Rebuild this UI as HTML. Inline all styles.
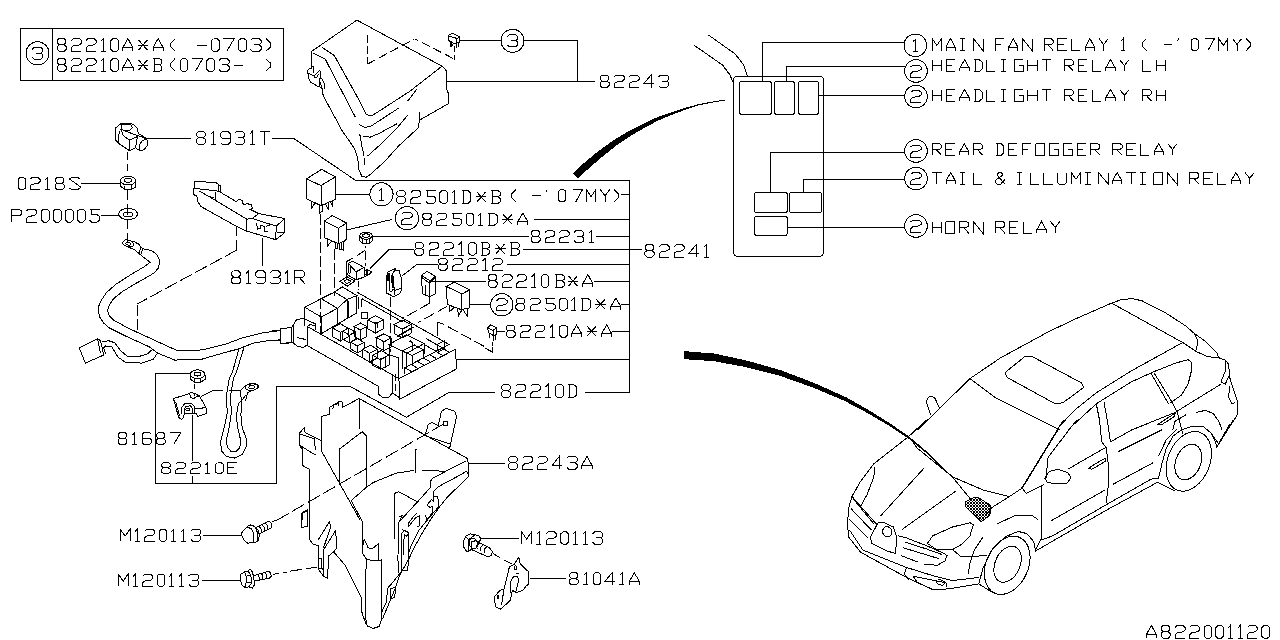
<!DOCTYPE html>
<html><head><meta charset="utf-8"><title>A822001120</title>
<style>
html,body{margin:0;padding:0;background:#fff;font-family:"Liberation Sans",sans-serif;}
svg{display:block}
svg path,svg circle,svg ellipse,svg rect,svg polyline{fill:none;stroke:#000;stroke-linecap:butt;stroke-linejoin:miter}
svg .f{fill:#000;stroke:none}
svg .w{fill:#fff}
svg .t text{font-family:"Liberation Mono",monospace;font-size:19px;fill:#000;fill-opacity:0;stroke:none}
</style></head><body>
<svg shape-rendering="crispEdges" width="1280" height="640" viewBox="0 0 1280 640">
<rect class="w" x="0" y="0" width="1280" height="640" style="stroke:none;fill:#fff"/>
<rect x="20.5" y="28.5" width="263.2" height="51.9" rx="0.0" stroke-width="1.0"/>
<path d="M52.5 28.5 L52.5 80.4" stroke-width="1.0" />
<circle cx="37.5" cy="53.3" r="11.5" stroke-width="1.0"/>
<path d="M32.2 49.2 L34.3 47.3 L40.7 47.3 L42.8 49.2 L42.8 51.6 L40.7 53.1 L42.8 54.7 L42.8 57.5 L40.7 59.3 L34.3 59.3 L32.2 57.5M35.7 53.1 L40.7 53.1" stroke-width="1.0" />
<path d="M59.1 38.6 L64.2 38.6 L65.7 40.2 L65.7 43.1 L63.9 44.7 L66.1 46.5 L66.1 49.4 L64.2 51.4 L59.1 51.4 L57.1 49.4 L57.1 46.5 L59.3 44.7 L57.5 43.1 L57.5 40.2 L59.1 38.6M59.3 44.7 L63.9 44.7M71.4 40.6 L73.4 38.6 L79.4 38.6 L81.4 40.6 L81.4 43.1 L79.4 44.9 L73.4 45.9 L71.4 47.7 L71.4 51.4 L81.4 51.4M86.1 40.6 L88.1 38.6 L94.0 38.6 L96.0 40.6 L96.0 43.1 L94.0 44.9 L88.1 45.9 L86.1 47.7 L86.1 51.4 L96.0 51.4M101.1 41.2 L103.5 38.6 L103.5 51.4M100.8 51.4 L105.8 51.4M113.1 38.6 L116.4 38.6 L118.6 40.6 L118.6 49.4 L116.4 51.4 L113.1 51.4 L110.9 49.4 L110.9 40.6 L113.1 38.6M122.8 51.4 L122.8 47.6 L127.9 38.6 L132.9 47.6 L132.9 51.4M122.8 47.6 L132.9 47.6M137.8 45.0 L148.2 45.0M138.6 39.9 L147.4 50.1M147.4 39.9 L138.6 50.1M153.0 51.4 L153.0 47.6 L158.1 38.6 L163.2 47.6 L163.2 51.4M153.0 47.6 L163.2 47.6M175.5 38.6 L170.6 43.5 L170.6 46.5 L175.5 51.4" stroke-width="1.0" />
<path d="M197.1 45.0 L206.8 45.0M213.5 38.6 L216.9 38.6 L219.1 40.6 L219.1 49.4 L216.9 51.4 L213.5 51.4 L211.3 49.4 L211.3 40.6 L213.5 38.6M223.4 38.6 L234.2 38.6 L226.8 51.4M240.8 38.6 L244.1 38.6 L246.4 40.6 L246.4 49.4 L244.1 51.4 L240.8 51.4 L238.5 49.4 L238.5 40.6 L240.8 38.6M250.6 40.6 L252.7 38.6 L259.0 38.6 L261.0 40.6 L261.0 43.1 L259.0 44.8 L261.0 46.5 L261.0 49.4 L259.0 51.4 L252.7 51.4 L250.6 49.4M254.0 44.8 L259.0 44.8M265.9 38.6 L270.9 43.5 L270.9 46.5 L265.9 51.4" stroke-width="1.0" />
<path d="M59.1 58.6 L64.2 58.6 L65.7 60.2 L65.7 63.1 L63.9 64.7 L66.1 66.5 L66.1 69.4 L64.2 71.4 L59.1 71.4 L57.1 69.4 L57.1 66.5 L59.3 64.7 L57.5 63.1 L57.5 60.2 L59.1 58.6M59.3 64.7 L63.9 64.7M71.4 60.6 L73.4 58.6 L79.4 58.6 L81.4 60.6 L81.4 63.1 L79.4 64.9 L73.4 65.9 L71.4 67.7 L71.4 71.4 L81.4 71.4M86.1 60.6 L88.1 58.6 L94.1 58.6 L96.0 60.6 L96.0 63.1 L94.1 64.9 L88.1 65.9 L86.1 67.7 L86.1 71.4 L96.0 71.4M101.1 61.2 L103.5 58.6 L103.5 71.4M100.8 71.4 L105.9 71.4M113.1 58.6 L116.4 58.6 L118.7 60.6 L118.7 69.4 L116.4 71.4 L113.1 71.4 L110.9 69.4 L110.9 60.6 L113.1 58.6M122.8 71.4 L122.8 67.6 L127.9 58.6 L133.0 67.6 L133.0 71.4M122.8 67.6 L133.0 67.6M137.8 65.0 L148.2 65.0M138.6 59.9 L147.4 70.1M147.4 59.9 L138.6 70.1M153.1 58.6 L159.7 58.6 L161.9 60.2 L161.9 63.3 L159.7 64.9 L161.9 66.5 L161.9 69.8 L159.7 71.4 L153.1 71.4M154.6 58.6 L154.6 71.4M154.6 64.9 L159.7 64.9M175.1 58.6 L170.3 63.5 L170.3 66.5 L175.1 71.4M182.4 58.6 L185.7 58.6 L187.9 60.6 L187.9 69.4 L185.7 71.4 L182.4 71.4 L180.2 69.4 L180.2 60.6 L182.4 58.6M192.1 58.6 L202.7 58.6 L195.4 71.4M209.1 58.6 L212.4 58.6 L214.6 60.6 L214.6 69.4 L212.4 71.4 L209.1 71.4 L206.9 69.4 L206.9 60.6 L209.1 58.6M218.8 60.6 L220.8 58.6 L227.0 58.6 L229.0 60.6 L229.0 63.1 L227.0 64.8 L229.0 66.5 L229.0 69.4 L227.0 71.4 L220.8 71.4 L218.8 69.4M222.1 64.8 L227.0 64.8M233.8 65.0 L243.3 65.0" stroke-width="1.0" />
<path d="M265.6 58.6 L270.9 63.5 L270.9 66.5 L265.6 71.4" stroke-width="1.0" />
<rect x="733.4" y="76.3" width="90.0" height="180.0" rx="4.0" stroke-width="1.0"/>
<rect x="739.4" y="81.5" width="31.9" height="32.8" rx="2.0" stroke-width="1.0"/>
<rect x="774.6" y="81.5" width="19.7" height="32.8" rx="2.0" stroke-width="1.0"/>
<rect x="798.4" y="81.5" width="20.1" height="32.8" rx="2.0" stroke-width="1.0"/>
<rect x="754.4" y="192.5" width="32.8" height="19.9" rx="2.0" stroke-width="1.0"/>
<rect x="789.4" y="192.5" width="32.1" height="19.9" rx="2.0" stroke-width="1.0"/>
<rect x="754.4" y="216.5" width="32.8" height="18.8" rx="2.0" stroke-width="1.0"/>
<path d="M762.3 81.5 L762.3 42.5 L904.0 42.5" stroke-width="1.0" />
<path d="M786.3 81.5 L786.3 66.1 L904.5 66.1" stroke-width="1.0" />
<path d="M818.5 95.6 L904.5 95.6" stroke-width="1.0" />
<path d="M770.3 192.5 L770.3 152.4 L904.5 152.4" stroke-width="1.0" />
<path d="M803.5 192.5 L803.5 179.6 L904.5 179.6" stroke-width="1.0" />
<path d="M787.2 227.3 L904.5 227.3" stroke-width="1.0" />
<circle cx="915.3" cy="45.3" r="11.3" stroke-width="1.0"/>
<path d="M913.0 41.7 L915.5 39.3 L915.5 51.3M912.7 51.3 L917.9 51.3" stroke-width="1.0" />
<circle cx="916.0" cy="71.0" r="11.3" stroke-width="1.0"/>
<path d="M910.8 66.9 L912.9 65.0 L919.1 65.0 L921.2 66.9 L921.2 69.3 L919.1 70.9 L912.9 71.8 L910.8 73.5 L910.8 77.0 L921.2 77.0" stroke-width="1.0" />
<circle cx="916.0" cy="96.5" r="11.3" stroke-width="1.0"/>
<path d="M910.8 92.4 L912.9 90.5 L919.1 90.5 L921.2 92.4 L921.2 94.8 L919.1 96.4 L912.9 97.3 L910.8 99.0 L910.8 102.5 L921.2 102.5" stroke-width="1.0" />
<circle cx="916.0" cy="151.0" r="11.3" stroke-width="1.0"/>
<path d="M910.8 146.9 L912.9 145.0 L919.1 145.0 L921.2 146.9 L921.2 149.3 L919.1 150.9 L912.9 151.8 L910.8 153.5 L910.8 157.0 L921.2 157.0" stroke-width="1.0" />
<circle cx="916.0" cy="178.5" r="11.3" stroke-width="1.0"/>
<path d="M910.8 174.4 L912.9 172.5 L919.1 172.5 L921.2 174.4 L921.2 176.8 L919.1 178.4 L912.9 179.3 L910.8 181.0 L910.8 184.5 L921.2 184.5" stroke-width="1.0" />
<circle cx="916.0" cy="226.0" r="11.3" stroke-width="1.0"/>
<path d="M910.8 221.9 L912.9 220.0 L919.1 220.0 L921.2 221.9 L921.2 224.3 L919.1 225.9 L912.9 226.8 L910.8 228.5 L910.8 232.0 L921.2 232.0" stroke-width="1.0" />
<path d="M932.2 50.6 L932.2 38.6 L936.8 45.5 L941.4 38.6 L941.4 50.6M946.0 50.6 L946.0 47.0 L950.5 38.6 L955.1 47.0 L955.1 50.6M946.0 47.0 L955.1 47.0M962.4 38.6 L962.4 50.6M959.7 38.6 L965.1 38.6M959.7 50.6 L965.1 50.6M973.5 50.6 L973.5 38.6 L983.0 50.6 L983.0 38.6M1003.8 38.6 L995.0 38.6 L995.0 50.6M995.0 44.4 L1001.0 44.4M1008.8 50.6 L1008.8 47.0 L1013.3 38.6 L1017.9 47.0 L1017.9 50.6M1008.8 47.0 L1017.9 47.0M1022.5 50.6 L1022.5 38.6 L1032.1 50.6 L1032.1 38.6M1044.0 50.6 L1044.0 38.6 L1051.0 38.6 L1053.0 40.3 L1053.0 43.0 L1051.0 44.7 L1044.0 44.7M1048.0 44.7 L1053.2 50.6M1066.6 38.6 L1057.8 38.6 L1057.8 50.6 L1066.6 50.6M1057.8 44.4 L1063.8 44.4M1071.6 38.6 L1071.6 50.6 L1080.1 50.6M1085.3 50.6 L1085.3 47.0 L1089.9 38.6 L1094.5 47.0 L1094.5 50.6M1085.3 47.0 L1094.5 47.0M1099.1 38.6 L1103.7 44.6 L1108.2 38.6M1103.7 44.6 L1103.7 50.6M1120.9 41.0 L1123.1 38.6 L1123.1 50.6M1120.6 50.6 L1125.2 50.6M1146.5 38.6 L1142.1 43.2 L1142.1 46.0 L1146.5 50.6M1163.7 44.6 L1172.2 44.6M1178.8 38.6 L1177.4 41.4M1193.2 38.6 L1196.2 38.6 L1198.2 40.4 L1198.2 48.8 L1196.2 50.6 L1193.2 50.6 L1191.2 48.8 L1191.2 40.4 L1193.2 38.6M1204.9 38.6 L1214.5 38.6 L1207.9 50.6M1218.7 50.6 L1218.7 38.6 L1223.3 45.5 L1227.9 38.6 L1227.9 50.6M1232.5 38.6 L1237.0 44.6 L1241.6 38.6M1237.0 44.6 L1237.0 50.6M1246.2 38.6 L1250.6 43.2 L1250.6 46.0 L1246.2 50.6" stroke-width="1.0" />
<path d="M932.2 59.7 L932.2 71.4M941.4 59.7 L941.4 71.4M932.2 65.4 L941.4 65.4M955.1 59.7 L946.1 59.7 L946.1 71.4 L955.1 71.4M946.1 65.4 L952.2 65.4M959.9 71.4 L959.9 67.9 L964.6 59.7 L969.3 67.9 L969.3 71.4M959.9 67.9 L969.3 67.9M973.8 59.7 L979.3 59.7 L982.0 62.0 L982.0 69.1 L979.3 71.4 L973.8 71.4M975.2 59.7 L975.2 71.4M986.7 59.7 L986.7 71.4 L995.4 71.4M1003.3 59.7 L1003.3 71.4M1000.5 59.7 L1006.1 59.7M1000.5 71.4 L1006.1 71.4M1023.2 59.7 L1014.0 59.7 L1014.0 71.4 L1023.2 71.4 L1023.2 65.6 L1018.6 65.6M1027.9 59.7 L1027.9 71.4M1037.1 59.7 L1037.1 71.4M1027.9 65.4 L1037.1 65.4M1041.8 59.7 L1051.1 59.7M1046.5 59.7 L1046.5 71.4M1064.2 71.4 L1064.2 59.7 L1071.3 59.7 L1073.4 61.3 L1073.4 64.0 L1071.3 65.6 L1064.2 65.6M1068.3 65.6 L1073.6 71.4M1087.1 59.7 L1078.1 59.7 L1078.1 71.4 L1087.1 71.4M1078.1 65.4 L1084.2 65.4M1092.0 59.7 L1092.0 71.4 L1100.7 71.4M1105.8 71.4 L1105.8 67.9 L1110.5 59.7 L1115.2 67.9 L1115.2 71.4M1105.8 67.9 L1115.2 67.9M1119.7 59.7 L1124.4 65.6 L1129.1 59.7M1124.4 65.6 L1124.4 71.4M1142.1 59.7 L1142.1 71.4 L1150.9 71.4M1156.0 59.7 L1156.0 71.4M1165.2 59.7 L1165.2 71.4M1156.0 65.4 L1165.2 65.4" stroke-width="1.0" />
<path d="M932.2 89.6 L932.2 101.1M941.4 89.6 L941.4 101.1M932.2 95.2 L941.4 95.2M955.1 89.6 L946.1 89.6 L946.1 101.1 L955.1 101.1M946.1 95.2 L952.2 95.2M959.9 101.1 L959.9 97.6 L964.6 89.6 L969.3 97.6 L969.3 101.1M959.9 97.6 L969.3 97.6M973.8 89.6 L979.3 89.6 L982.0 91.9 L982.0 98.8 L979.3 101.1 L973.8 101.1M975.2 89.6 L975.2 101.1M986.7 89.6 L986.7 101.1 L995.4 101.1M1003.3 89.6 L1003.3 101.1M1000.5 89.6 L1006.1 89.6M1000.5 101.1 L1006.1 101.1M1023.2 89.6 L1014.0 89.6 L1014.0 101.1 L1023.2 101.1 L1023.2 95.4 L1018.6 95.4M1027.9 89.6 L1027.9 101.1M1037.1 89.6 L1037.1 101.1M1027.9 95.2 L1037.1 95.2M1041.8 89.6 L1051.1 89.6M1046.5 89.6 L1046.5 101.1M1064.2 101.1 L1064.2 89.6 L1071.3 89.6 L1073.4 91.2 L1073.4 93.8 L1071.3 95.4 L1064.2 95.4M1068.3 95.4 L1073.6 101.1M1087.1 89.6 L1078.1 89.6 L1078.1 101.1 L1087.1 101.1M1078.1 95.2 L1084.2 95.2M1092.0 89.6 L1092.0 101.1 L1100.7 101.1M1105.8 101.1 L1105.8 97.6 L1110.5 89.6 L1115.2 97.6 L1115.2 101.1M1105.8 97.6 L1115.2 97.6M1119.7 89.6 L1124.4 95.3 L1129.1 89.6M1124.4 95.3 L1124.4 101.1M1142.1 101.1 L1142.1 89.6 L1149.3 89.6 L1151.3 91.2 L1151.3 93.8 L1149.3 95.4 L1142.1 95.4M1146.2 95.4 L1151.5 101.1M1156.0 89.6 L1156.0 101.1M1165.2 89.6 L1165.2 101.1M1156.0 95.2 L1165.2 95.2" stroke-width="1.0" />
<path d="M932.2 155.3 L932.2 143.6 L939.3 143.6 L941.3 145.2 L941.3 147.9 L939.3 149.5 L932.2 149.5M936.2 149.5 L941.5 155.3M954.8 143.6 L945.9 143.6 L945.9 155.3 L954.8 155.3M945.9 149.3 L952.0 149.3M959.7 155.3 L959.7 151.8 L964.3 143.6 L968.9 151.8 L968.9 155.3M959.7 151.8 L968.9 151.8M973.4 155.3 L973.4 143.6 L980.5 143.6 L982.5 145.2 L982.5 147.9 L980.5 149.5 L973.4 149.5M977.4 149.5 L982.7 155.3M995.6 143.6 L1001.0 143.6 L1003.7 145.9 L1003.7 153.0 L1001.0 155.3 L995.6 155.3M997.0 143.6 L997.0 155.3M1017.2 143.6 L1008.3 143.6 L1008.3 155.3 L1017.2 155.3M1008.3 149.3 L1014.4 149.3M1030.9 143.6 L1022.0 143.6 L1022.0 155.3M1022.0 149.3 L1028.1 149.3M1035.8 143.6 L1044.7 143.6 L1044.7 155.3 L1035.8 155.3 L1035.8 143.6M1058.6 143.6 L1049.5 143.6 L1049.5 155.3 L1058.6 155.3 L1058.6 149.5 L1054.0 149.5M1072.3 143.6 L1063.2 143.6 L1063.2 155.3 L1072.3 155.3 L1072.3 149.5 L1067.8 149.5M1085.8 143.6 L1077.0 143.6 L1077.0 155.3 L1085.8 155.3M1077.0 149.3 L1083.0 149.3M1090.7 155.3 L1090.7 143.6 L1097.8 143.6 L1099.8 145.2 L1099.8 147.9 L1097.8 149.5 L1090.7 149.5M1094.7 149.5 L1100.0 155.3M1112.9 155.3 L1112.9 143.6 L1120.0 143.6 L1122.0 145.2 L1122.0 147.9 L1120.0 149.5 L1112.9 149.5M1116.9 149.5 L1122.2 155.3M1135.5 143.6 L1126.6 143.6 L1126.6 155.3 L1135.5 155.3M1126.6 149.3 L1132.7 149.3M1140.4 143.6 L1140.4 155.3 L1149.0 155.3M1154.1 155.3 L1154.1 151.8 L1158.7 143.6 L1163.4 151.8 L1163.4 155.3M1154.1 151.8 L1163.4 151.8M1167.8 143.6 L1172.5 149.4 L1177.1 143.6M1172.5 149.4 L1172.5 155.3" stroke-width="1.0" />
<path d="M932.2 172.5 L941.5 172.5M936.9 172.5 L936.9 184.2M946.0 184.2 L946.0 180.7 L950.7 172.5 L955.3 180.7 L955.3 184.2M946.0 180.7 L955.3 180.7M962.5 172.5 L962.5 184.2M959.8 172.5 L965.3 172.5M959.8 184.2 L965.3 184.2M973.2 172.5 L973.2 184.2 L981.9 184.2M1005.0 184.2 L997.5 175.6 L997.5 173.9 L999.1 172.5 L1001.0 172.5 L1002.4 173.9 L1002.4 175.4 L995.5 180.2 L995.5 182.4 L997.3 184.2 L1000.6 184.2 L1005.0 179.3M1019.3 172.5 L1019.3 184.2M1016.6 172.5 L1022.1 172.5M1016.6 184.2 L1022.1 184.2M1030.0 172.5 L1030.0 184.2 L1038.7 184.2M1043.8 172.5 L1043.8 184.2 L1052.5 184.2M1057.6 172.5 L1057.6 182.4 L1059.4 184.2 L1064.9 184.2 L1066.7 182.4 L1066.7 172.5M1071.3 184.2 L1071.3 172.5 L1076.0 179.2 L1080.7 172.5 L1080.7 184.2M1087.9 172.5 L1087.9 184.2M1085.1 172.5 L1090.6 172.5M1085.1 184.2 L1090.6 184.2M1098.5 184.2 L1098.5 172.5 L1108.3 184.2 L1108.3 172.5M1112.5 184.2 L1112.5 180.7 L1117.2 172.5 L1121.8 180.7 L1121.8 184.2M1112.5 180.7 L1121.8 180.7M1126.3 172.5 L1135.6 172.5M1131.0 172.5 L1131.0 184.2M1142.8 172.5 L1142.8 184.2M1140.1 172.5 L1145.6 172.5M1140.1 184.2 L1145.6 184.2M1153.5 172.5 L1162.4 172.5 L1162.4 184.2 L1153.5 184.2 L1153.5 172.5M1167.3 184.2 L1167.3 172.5 L1177.0 184.2 L1177.0 172.5M1189.8 184.2 L1189.8 172.5 L1196.9 172.5 L1198.9 174.1 L1198.9 176.8 L1196.9 178.4 L1189.8 178.4M1193.9 178.4 L1199.1 184.2M1212.5 172.5 L1203.6 172.5 L1203.6 184.2 L1212.5 184.2M1203.6 178.2 L1209.7 178.2M1217.4 172.5 L1217.4 184.2 L1226.1 184.2M1231.2 184.2 L1231.2 180.7 L1235.8 172.5 L1240.5 180.7 L1240.5 184.2M1231.2 180.7 L1240.5 180.7M1245.0 172.5 L1249.6 178.3 L1254.3 172.5M1249.6 178.3 L1249.6 184.2" stroke-width="1.0" />
<path d="M932.2 221.5 L932.2 233.4M941.3 221.5 L941.3 233.4M932.2 227.3 L941.3 227.3M945.9 221.5 L954.8 221.5 L954.8 233.4 L945.9 233.4 L945.9 221.5M959.6 233.4 L959.6 221.5 L966.7 221.5 L968.7 223.1 L968.7 225.9 L966.7 227.5 L959.6 227.5M963.6 227.5 L968.9 233.4M973.3 233.4 L973.3 221.5 L983.0 233.4 L983.0 221.5M995.7 233.4 L995.7 221.5 L1002.8 221.5 L1004.8 223.1 L1004.8 225.9 L1002.8 227.5 L995.7 227.5M999.7 227.5 L1005.0 233.4M1018.3 221.5 L1009.4 221.5 L1009.4 233.4 L1018.3 233.4M1009.4 227.3 L1015.5 227.3M1023.1 221.5 L1023.1 233.4 L1031.8 233.4M1036.8 233.4 L1036.8 229.8 L1041.5 221.5 L1046.1 229.8 L1046.1 233.4M1036.8 229.8 L1046.1 229.8M1050.5 221.5 L1055.2 227.4 L1059.8 221.5M1055.2 227.4 L1055.2 233.4" stroke-width="1.0" />
<path d="M311.5 69.0 L311.5 51.5 L356.9 20.1 L442.0 66.2 L446.2 70.5 L446.9 90.0 L448.8 94.2 L448.8 103.4 L419.5 120.2" stroke-width="1.0" />
<path d="M312.7 52.9 L325.3 59.2 L346.4 100.0 L355.5 117.4" stroke-width="1.0" />
<path d="M321.8 47.3 L334.4 55.7 L359.0 100.0 L366.1 113.9 L368.9 115.3 L373.1 115.0 L409.7 91.4 L442.0 66.2" stroke-width="1.0" />
<path d="M416.7 89.4 L407.6 101.2" stroke-width="1.0" />
<path d="M319.0 79.0 L322.5 90.0 L323.2 95.6 L342.2 130.8 L354.8 149.0 L357.6 157.5 L359.0 170.1 L361.9 176.5 L366.1 177.2 L370.3 174.4 L384.4 161.7 L398.4 146.2 L418.8 127.3 L419.5 112.5" stroke-width="1.0" />
<path d="M359.0 124.4 L364.7 127.3 L370.3 126.6 L398.4 108.3" stroke-width="1.0" />
<path d="M362.6 136.4 L370.3 137.1 L378.7 133.6 L397.0 123.7" stroke-width="1.0" />
<path d="M407.6 115.3 L397.0 128.0 L380.1 144.8 L367.5 156.1" stroke-width="1.0" />
<path d="M359.8 134.3 L361.9 146.2 L364.0 155.4" stroke-width="1.0" />
<path d="M364.4 158.2 L364.4 165.2" stroke-width="1.0" />
<path d="M367.5 35.3 L367.5 64.1" stroke-width="1.0" stroke-dasharray="8 3"/>
<path d="M367.5 64.1 L414.6 38.8" stroke-width="1.0" stroke-dasharray="9 4"/>
<path d="M414.6 38.8 L454.7 59.2" stroke-width="1.0" stroke-dasharray="9 4" stroke-dashoffset="5"/>
<path d="M454.5 46.3 L454.5 51.6" stroke-width="1.0" />
<path d="M454.7 55.3 L454.7 60.2" stroke-width="1.0" />
<path d="M446.9 81.6 L595.0 81.6" stroke-width="1.0" />
<path d="M459.7 40.3 L501.0 40.3" stroke-width="1.0" />
<path d="M524.0 40.3 L577.5 40.3 L577.5 81.6" stroke-width="1.0" />
<circle cx="512.5" cy="40.8" r="11.5" stroke-width="1.0"/>
<path d="M507.2 36.7 L509.3 34.8 L515.7 34.8 L517.8 36.7 L517.8 39.1 L515.7 40.6 L517.8 42.2 L517.8 45.0 L515.7 46.8 L509.3 46.8 L507.2 45.0M510.7 40.6 L515.7 40.6" stroke-width="1.0" />
<path d="M602.0 75.0 L607.1 75.0 L608.6 76.5 L608.6 79.4 L606.8 81.0 L609.1 82.7 L609.1 85.6 L607.1 87.5 L602.0 87.5 L600.0 85.6 L600.0 82.7 L602.2 81.0 L600.4 79.4 L600.4 76.5 L602.0 75.0M602.2 81.0 L606.8 81.0M614.4 76.9 L616.3 75.0 L622.3 75.0 L624.3 76.9 L624.3 79.4 L622.3 81.2 L616.3 82.1 L614.4 83.8 L614.4 87.5 L624.3 87.5M629.0 76.9 L631.0 75.0 L637.0 75.0 L639.0 76.9 L639.0 79.4 L637.0 81.2 L631.0 82.1 L629.0 83.8 L629.0 87.5 L639.0 87.5M651.0 87.5 L651.0 75.0 L643.7 83.9 L653.9 83.9M658.5 76.9 L660.5 75.0 L666.7 75.0 L668.7 76.9 L668.7 79.4 L666.7 81.1 L668.7 82.7 L668.7 85.6 L666.7 87.5 L660.5 87.5 L658.5 85.6M661.9 81.1 L666.7 81.1" stroke-width="1.0" />
<path d="M311.6 55.0 L311.6 66.9 L313.4 66.9 L313.4 72.5" stroke-width="1.0" />
<path d="M311.6 67.8 L309.4 68.4 L307.5 70.3 L307.5 73.1 L309.4 73.8 L312.5 75.3 L314.4 75.3 L320.0 70.3 L320.3 78.1" stroke-width="1.0" />
<path d="M314.4 75.3 L314.7 77.2 L316.9 77.2 L318.8 73.8" stroke-width="1.0" />
<path d="M308.4 73.8 L308.4 78.1 L310.3 81.9 L317.5 86.3 L319.4 86.3 L319.7 78.1 L321.6 78.4 L324.4 83.8 L324.4 88.8" stroke-width="1.0" />
<path d="M319.4 86.3 L322.5 88.8 L322.8 95.0" stroke-width="1.0" />
<path d="M448.1 35.3 L452.5 33.4 L459.7 36.9 L459.7 42.5 L456.9 43.1 L453.4 43.1 L448.1 40.3Z" stroke-width="1.0" />
<path d="M448.1 35.3 L450.3 36.6 L456.9 38.4 L459.7 37.5" stroke-width="1.0" />
<path d="M456.9 38.4 L456.9 48.4" stroke-width="1.0" />
<path d="M458.4 43.1 L458.4 46.9" stroke-width="1.0" />
<path d="M450.8 41.0 L450.8 46.5" stroke-width="2" />
<path d="M452.2 43.5 L452.2 45.5" stroke-width="1.5" />
<path d="M115.2 128.4 L121.1 123.4 L130.9 123.4 L133.6 124.5 L137.5 128.4 L138.3 133.4 L146.9 138.9 L147.7 145.2 L143.8 149.8 L139.8 150.6 L135.5 147.9 L129.3 150.6 L118.4 143.2 L115.2 139.7Z" stroke-width="1.0" />
<ellipse cx="126.6" cy="127.3" rx="5.5" ry="3.4" stroke-width="1.0"/>
<path d="M121.1 123.7 L130.9 123.7" stroke-width="1.6" />
<path d="M124.2 130.7 L146.9 138.9" stroke-width="1.0" />
<path d="M120.7 128.8 L123.4 135.8 L129.3 140.1 L129.3 150.6" stroke-width="1.0" />
<path d="M129.3 140.1 L137.5 136.6 L135.5 147.9" stroke-width="1.0" />
<path d="M146.9 138.9 L142.2 140.9 L139.5 144.4 L139.8 150.6" stroke-width="1.0" />
<path d="M119.5 130.7 L118.6 136.6 L118.4 143.2" stroke-width="1.0" />
<path d="M147.3 138.6 L191.0 138.6" stroke-width="1.0" />
<path d="M198.5 131.5 L203.5 131.5 L205.0 133.1 L205.0 136.1 L203.2 137.7 L205.4 139.5 L205.4 142.5 L203.5 144.5 L198.5 144.5 L196.5 142.5 L196.5 139.5 L198.7 137.7 L196.9 136.1 L196.9 133.1 L198.5 131.5M198.7 137.7 L203.2 137.7M210.9 134.1 L213.3 131.5 L213.3 144.5M210.6 144.5 L215.6 144.5M220.6 142.5 L222.6 144.5 L228.0 144.5 L230.0 142.5 L230.0 133.5 L228.0 131.5 L222.6 131.5 L220.6 133.5 L220.6 136.5 L222.6 138.3 L230.0 138.3M234.7 133.5 L236.7 131.5 L242.8 131.5 L244.7 133.5 L244.7 136.1 L242.8 137.8 L244.7 139.5 L244.7 142.5 L242.8 144.5 L236.7 144.5 L234.7 142.5M238.0 137.8 L242.8 137.8M249.8 134.1 L252.2 131.5 L252.2 144.5M249.5 144.5 L254.5 144.5M259.5 131.5 L269.5 131.5M264.5 131.5 L264.5 144.5" stroke-width="1.0" />
<path d="M271.5 138.6 L294.0 138.6 L355.5 180.3 L629.8 180.3 L629.8 392.4" stroke-width="1.0" />
<path d="M127.8 152.2 L127.8 160.0" stroke-width="1.0" />
<path d="M127.8 164.4 L127.8 170.6" stroke-width="1.0" />
<path d="M127.8 190.3 L127.8 199.8" stroke-width="1.0" />
<path d="M127.8 203.8 L127.8 215.0" stroke-width="1.0" />
<path d="M127.8 220.0 L127.8 229.4" stroke-width="1.0" />
<path d="M127.8 233.0 L127.8 242.0" stroke-width="1.0" />
<ellipse cx="128.1" cy="180.6" rx="7.5" ry="4.4" stroke-width="1.0"/>
<ellipse cx="128.1" cy="180.3" rx="3.6" ry="2.1" stroke-width="1.0"/>
<path d="M120.6 181.0 L120.6 186.3 L124.4 189.4 L131.3 189.4 L135.6 186.9 L135.6 181.0" stroke-width="1.0" />
<path d="M124.4 185.6 L124.4 189.4" stroke-width="1.0" />
<path d="M131.3 185.0 L131.3 189.4" stroke-width="1.0" />
<path d="M81.0 183.1 L120.6 183.1" stroke-width="1.0" />
<path d="M20.2 177.5 L23.6 177.5 L25.8 179.3 L25.8 187.7 L23.6 189.5 L20.2 189.5 L18.0 187.7 L18.0 179.3 L20.2 177.5M30.0 179.3 L32.0 177.5 L38.0 177.5 L40.0 179.3 L40.0 181.7 L38.0 183.4 L32.0 184.3 L30.0 186.0 L30.0 189.5 L40.0 189.5M45.2 179.9 L47.6 177.5 L47.6 189.5M44.8 189.5 L49.9 189.5M57.1 177.5 L62.2 177.5 L63.7 179.0 L63.7 181.7 L62.0 183.2 L64.2 184.9 L64.2 187.7 L62.2 189.5 L57.1 189.5 L55.1 187.7 L55.1 184.9 L57.3 183.2 L55.5 181.7 L55.5 179.0 L57.1 177.5M57.3 183.2 L62.0 183.2M80.0 179.0 L78.0 177.5 L71.5 177.5 L69.5 179.0 L80.0 186.5 L80.0 188.0 L78.0 189.5 L71.8 189.5 L69.5 188.0" stroke-width="1.0" />
<ellipse cx="128.1" cy="214.0" rx="9.4" ry="5.6" stroke-width="1.0"/>
<ellipse cx="128.1" cy="214.5" rx="4.7" ry="2.5" stroke-width="1.0"/>
<path d="M100.5 215.0 L118.8 215.0" stroke-width="1.0" />
<path d="M11.5 222.0 L11.5 209.2 L19.3 209.2 L21.5 211.0 L21.5 214.1 L19.3 215.9 L11.5 215.9M26.4 211.2 L28.5 209.2 L34.5 209.2 L36.5 211.2 L36.5 213.7 L34.5 215.5 L28.5 216.5 L26.4 218.3 L26.4 222.0 L36.5 222.0M43.5 209.2 L46.9 209.2 L49.1 211.2 L49.1 220.0 L46.9 222.0 L43.5 222.0 L41.3 220.0 L41.3 211.2 L43.5 209.2M55.6 209.2 L58.9 209.2 L61.1 211.2 L61.1 220.0 L58.9 222.0 L55.6 222.0 L53.3 220.0 L53.3 211.2 L55.6 209.2M67.6 209.2 L70.9 209.2 L73.2 211.2 L73.2 220.0 L70.9 222.0 L67.6 222.0 L65.4 220.0 L65.4 211.2 L67.6 209.2M79.6 209.2 L83.0 209.2 L85.2 211.2 L85.2 220.0 L83.0 222.0 L79.6 222.0 L77.4 220.0 L77.4 211.2 L79.6 209.2M99.5 209.2 L89.5 209.2M91.0 209.2 L91.0 214.7 L97.3 214.7 L99.5 216.7 L99.5 220.0 L97.3 222.0 L91.7 222.0 L89.5 220.0" stroke-width="1.0" />
<ellipse cx="128.2" cy="243.4" rx="5.6" ry="3.4" stroke-width="1.0" transform="rotate(15 128.2 243.4)"/>
<ellipse cx="128.2" cy="243.6" rx="2.6" ry="1.5" stroke-width="1.0" transform="rotate(15 128.2 243.6)"/>
<path d="M133.1 241.2 L138.7 244.1 L140.8 247.6 L144.4 249.0 L151.4 250.4 L157.0 254.6 L159.8 260.9 L158.4 268.0 L154.2 272.9 L147.2 277.1 L135.9 283.4 L121.9 291.9 L113.4 298.9" stroke-width="1.0" />
<path d="M126.1 246.2 L134.5 249.7 L139.4 253.9 L150.0 262.3 L144.4 266.6 L130.3 275.0 L116.2 284.1 L106.4 292.6 L100.8 301.0" stroke-width="1.0" />
<path d="M140.8 248.3 L138.7 253.2" stroke-width="1.0" />
<path d="M143.0 249.0 L140.8 254.2" stroke-width="1.0" />
<path d="M137.6 304.5 L137.6 330.0" stroke-width="1.0" stroke-dasharray="11 3"/>
<path d="M236.7 250.1 L137.6 303.8" stroke-width="1.0" stroke-dasharray="13 4"/>
<path d="M218.0 191.1 L194.1 188.3 L194.1 181.2 L215.9 182.7 L220.8 186.2 L220.8 192.5 L236.2 201.6 L238.3 199.5 L241.9 200.2 L243.3 204.4 L247.5 203.7 L251.7 205.1 L252.4 208.7 L250.3 209.4 L258.7 213.6 L284.7 218.5 L284.0 233.3 L275.6 239.6 L246.8 231.2 L236.2 226.2 L201.1 206.6 L197.6 201.6 L196.9 196.0 L193.4 194.6 L193.4 189.0 L194.1 188.3" stroke-width="1.0" />
<path d="M215.9 182.7 L218.0 184.1 L218.0 191.1 L220.8 192.5" stroke-width="1.0" />
<path d="M199.7 191.1 L215.1 200.2 L246.8 219.2 L252.4 218.5 L258.7 213.6" stroke-width="1.0" />
<path d="M215.1 191.8 L215.9 200.2" stroke-width="1.0" />
<path d="M208.1 196.7 L214.4 197.4" stroke-width="1.0" />
<path d="M246.8 219.2 L246.8 231.2" stroke-width="1.0" />
<path d="M252.4 218.5 L276.3 226.2 L284.7 218.5" stroke-width="1.0" />
<path d="M276.3 226.2 L275.6 239.6" stroke-width="1.0" />
<path d="M276.3 231.9 L284.0 232.8" stroke-width="1.0" />
<path d="M256.6 222.7 L257.3 229.1 L260.1 228.3 L260.8 225.5 L264.4 226.2 L264.4 231.9 L267.9 231.9" stroke-width="1.0" />
<path d="M265.8 226.2 L270.0 225.5" stroke-width="1.0" />
<path d="M236.7 226.9 L236.7 236.1" stroke-width="1.0" />
<path d="M236.7 239.6 L236.7 250.1" stroke-width="1.0" />
<path d="M262.5 237.5 L262.5 266.0" stroke-width="1.0" />
<path d="M306.6 178.8 L321.6 169.4 L335.4 176.9 L321.0 185.6Z" stroke-width="1.0" />
<path d="M306.6 178.8 L306.6 198.8 L321.0 205.6 L335.4 199.4 L335.4 176.9" stroke-width="1.0" />
<path d="M321.0 185.6 L321.0 205.6" stroke-width="1.0" />
<path d="M311.6 201.9 L311.6 208.1 L314.8 203.5" stroke-width="1.0" />
<path d="M319.1 205.0 L319.8 213.1 L322.9 210.6 L322.9 205.2" stroke-width="1.0" />
<path d="M325.4 204.0 L328.5 210.0 L328.5 202.8" stroke-width="1.0" />
<path d="M330.4 202.0 L332.9 206.9 L332.9 200.8" stroke-width="1.0" />
<path d="M335.4 194.0 L369.8 194.0" stroke-width="1.0" />
<circle cx="381.5" cy="194.4" r="11.6" stroke-width="1.0"/>
<path d="M379.2 190.8 L381.7 188.4 L381.7 200.4M378.9 200.4 L384.1 200.4" stroke-width="1.0" />
<path d="M324.1 221.2 L332.2 215.6 L346.6 223.1 L338.5 228.1Z" stroke-width="1.0" />
<path d="M324.1 221.2 L324.1 237.5 L338.5 243.8 L346.6 239.4 L346.6 223.1" stroke-width="1.0" />
<path d="M338.5 228.1 L338.5 243.8" stroke-width="1.0" />
<path d="M327.2 239.4 L327.9 245.6 L331.6 241.2" stroke-width="1.0" />
<path d="M335.4 242.8 L335.4 248.8 L337.2 248.8 L337.2 243.5" stroke-width="1.0" />
<path d="M339.1 243.8 L339.8 249.4 L343.5 250.0 L344.1 240.6" stroke-width="1.0" />
<path d="M341.6 242.5 L341.6 248.8" stroke-width="1.0" />
<path d="M346.6 230.0 L392.2 219.4" stroke-width="1.0" />
<circle cx="407.0" cy="218.2" r="11.6" stroke-width="1.0"/>
<path d="M401.8 214.1 L403.9 212.2 L410.1 212.2 L412.2 214.1 L412.2 216.5 L410.1 218.1 L403.9 219.0 L401.8 220.7 L401.8 224.2 L412.2 224.2" stroke-width="1.0" />
<path d="M320.4 213.8 L320.4 334.0" stroke-width="1.0" stroke-dasharray="11 3"/>
<path d="M334.5 249.4 L334.5 296.0" stroke-width="1.0" stroke-dasharray="11 3"/>
<ellipse cx="366.0" cy="235.6" rx="6.3" ry="3.6" stroke-width="1.0"/>
<ellipse cx="366.0" cy="235.6" rx="3.4" ry="1.8" stroke-width="1.0"/>
<path d="M359.8 235.6 L359.8 240.6 L362.9 243.8 L369.1 243.8 L372.2 240.6 L372.2 235.6" stroke-width="1.0" />
<path d="M362.9 239.4 L362.9 243.8" stroke-width="1.0" />
<path d="M369.1 239.4 L369.1 243.8" stroke-width="1.0" />
<path d="M366.0 239.8 L366.0 243.8" stroke-width="1.0" />
<path d="M365.4 245.6 L365.4 248.1" stroke-width="1.0" />
<path d="M365.4 250.6 L365.4 266.2" stroke-width="1.0" stroke-dasharray="9 3"/>
<path d="M364.8 250.6 L357.2 255.6" stroke-width="1.0" />
<path d="M352.9 258.1 L346.0 261.9 L346.0 275.0" stroke-width="1.0" />
<path d="M348.5 263.1 L352.9 261.2 L364.1 267.5 L364.1 276.9 L356.0 280.0 L347.9 275.0Z" stroke-width="1.0" />
<path d="M348.5 263.1 L351.0 266.2 L356.0 271.9 L364.1 267.5" stroke-width="1.0" />
<path d="M356.0 271.9 L356.0 280.0" stroke-width="1.0" />
<path d="M351.0 266.2 L349.8 274.4" stroke-width="1.0" />
<path d="M366.0 268.8 L371.6 271.9 L366.0 276.2Z" stroke-width="1.0" />
<path d="M364.1 270.0 L367.9 270.6 L367.9 274.4 L364.1 275.0" stroke-width="1.0" />
<path d="M339.8 281.2 L347.2 276.9 L354.8 281.2 L347.2 286.2Z" stroke-width="1.0" />
<path d="M344.1 281.2 L347.2 279.4 L351.0 281.2 L347.2 283.8Z" stroke-width="1.0" />
<path d="M346.0 275.0 L346.0 280.0" stroke-width="1.0" />
<path d="M356.0 280.0 L363.5 277.5 L371.0 273.1" stroke-width="1.0" />
<path d="M358.5 280.6 L358.5 290.0" stroke-width="1.0" stroke-dasharray="6 2"/>
<path d="M369.8 268.8 L389.1 249.4 L413.5 249.4" stroke-width="1.0" />
<path d="M308.1 326.9 L307.1 327.3 L307.1 345.4 L378.4 386.4 L378.4 394.3 L382.3 397.2 L389.1 397.2 L392.1 392.9 L392.1 375.7" stroke-width="1.0" />
<path d="M308.1 326.9 L398.9 378.6" stroke-width="1.0" />
<path d="M398.9 378.6 L455.5 349.3 L456.5 368.9 L399.9 399.1Z" stroke-width="1.0" />
<path d="M392.1 392.9 L399.9 397.8" stroke-width="1.0" />
<path d="M395.0 373.8 L395.0 392.3" stroke-width="1.0" stroke-dasharray="7 3"/>
<path d="M356.9 292.1 L449.7 344.8" stroke-width="1.0" />
<path d="M361.8 298.6 L402.8 322.0" stroke-width="1.0" />
<path d="M304.8 307.3 L321.2 298.6 L337.4 308.3 L321.2 317.1Z" stroke-width="1.0" />
<path d="M304.8 307.3 L304.8 325.9" stroke-width="1.0" />
<path d="M321.2 317.1 L321.2 333.7" stroke-width="1.0" />
<path d="M337.4 308.3 L337.4 323.9" stroke-width="1.0" />
<path d="M321.2 298.6 L334.5 292.1 L347.1 299.5 L337.4 308.3" stroke-width="1.0" />
<path d="M347.1 299.5 L347.1 318.1" stroke-width="1.0" />
<path d="M334.5 292.1 L342.3 286.8 L356.9 295.6 L347.1 299.5" stroke-width="1.0" />
<path d="M356.9 295.6 L356.9 312.8" stroke-width="1.0" />
<path d="M321.2 333.7 L356.9 312.8" stroke-width="1.0" />
<path d="M348.1 300.5 L348.1 317.1" stroke-width="1" />
<path d="M358.9 296.6 L358.9 309.3" stroke-width="1.0" />
<path d="M361.8 298.6 L361.8 307.3" stroke-width="1.0" />
<path d="M270.0 331.2 L280.7 330.4" stroke-width="1.0" />
<path d="M270.0 340.5 L280.7 340.9" stroke-width="1.0" />
<path d="M280.7 328.8 L291.1 327.5 L291.1 342.5 L280.7 343.5Z" stroke-width="1.0" />
<path d="M291.1 328.8 L293.4 324.9 L296.4 320.0 L303.2 318.1 L315.3 323.9 L315.3 330.4" stroke-width="1.0" />
<path d="M293.4 324.9 L293.0 342.5 L297.3 346.4 L303.2 347.4 L306.7 345.4" stroke-width="1.0" />
<path d="M297.3 337.6 L306.1 339.6" stroke-width="1.0" />
<path d="M306.7 327.3 L310.0 324.5 L315.3 325.9" stroke-width="1.0" />
<path d="M332.5 327.9 L340.3 323.8 L348.1 328.2 L340.3 332.3Z" stroke-width="1.0" />
<path d="M332.5 327.9 L332.5 336.6" stroke-width="1.0" />
<path d="M340.3 332.3 L340.3 341.1" stroke-width="1.0" />
<path d="M348.1 328.2 L348.1 337.0" stroke-width="1.0" />
<path d="M332.5 336.6 L340.3 341.1 L348.1 337.0" stroke-width="1.0" />
<path d="M342.7 331.2 L348.5 328.1 L355.4 332.0 L349.5 335.1Z" stroke-width="1.0" />
<path d="M342.7 331.2 L342.7 339.0" stroke-width="1.0" />
<path d="M349.5 335.1 L349.5 342.9" stroke-width="1.0" />
<path d="M355.4 332.0 L355.4 339.8" stroke-width="1.0" />
<path d="M342.7 339.0 L349.5 342.9 L355.4 339.8" stroke-width="1.0" />
<path d="M350.5 342.1 L357.3 338.6 L364.1 342.5 L357.3 346.0Z" stroke-width="1.0" />
<path d="M350.5 342.1 L350.5 348.9" stroke-width="1.0" />
<path d="M357.3 346.0 L357.3 352.8" stroke-width="1.0" />
<path d="M364.1 342.5 L364.1 349.3" stroke-width="1.0" />
<path d="M350.5 348.9 L357.3 352.8 L364.1 349.3" stroke-width="1.0" />
<path d="M354.0 326.5 L360.6 323.0 L366.9 326.6 L360.2 330.0Z" stroke-width="1.0" />
<path d="M354.0 326.5 L354.0 336.2" stroke-width="1.0" />
<path d="M360.2 330.0 L360.2 339.8" stroke-width="1.0" />
<path d="M366.9 326.6 L366.9 336.4" stroke-width="1.0" />
<path d="M354.0 336.2 L360.2 339.8 L366.9 336.4" stroke-width="1.0" />
<path d="M367.7 320.0 L375.5 315.7 L383.3 319.6 L383.3 328.8 L375.5 333.1 L367.7 328.8Z" stroke-width="1.0" />
<path d="M367.7 320.0 L375.5 323.9 L383.3 319.6" stroke-width="1.0" />
<path d="M375.5 323.9 L375.5 333.1" stroke-width="1.0" />
<path d="M371.6 322.0 L377.4 322.0 L377.4 327.9" stroke-width="1.0" />
<path d="M361.8 312.2 L367.7 312.2 L367.7 318.1 L361.8 318.1Z" stroke-width="1.0" />
<path d="M376.4 337.6 L383.9 333.8 L391.3 338.0 L383.9 341.8Z" stroke-width="1.0" />
<path d="M376.4 337.6 L376.4 346.4" stroke-width="1.0" />
<path d="M383.9 341.8 L383.9 350.6" stroke-width="1.0" />
<path d="M391.3 338.0 L391.3 346.8" stroke-width="1.0" />
<path d="M376.4 346.4 L383.9 350.6 L391.3 346.8" stroke-width="1.0" />
<path d="M362.8 349.3 L370.6 345.3 L377.4 349.2 L369.6 353.2Z" stroke-width="1.0" />
<path d="M362.8 349.3 L362.8 358.1" stroke-width="1.0" />
<path d="M369.6 353.2 L369.6 362.0" stroke-width="1.0" />
<path d="M377.4 349.2 L377.4 358.0" stroke-width="1.0" />
<path d="M362.8 358.1 L369.6 362.0 L377.4 358.0" stroke-width="1.0" />
<path d="M372.5 355.2 L381.3 350.6 L389.1 355.1 L380.4 359.6Z" stroke-width="1.0" />
<path d="M372.5 355.2 L372.5 365.0" stroke-width="1.0" />
<path d="M380.4 359.6 L380.4 369.4" stroke-width="1.0" />
<path d="M389.1 355.1 L389.1 364.8" stroke-width="1.0" />
<path d="M372.5 365.0 L380.4 369.4 L389.1 364.8" stroke-width="1.0" />
<path d="M394.0 324.5 L402.8 320.0 L411.0 324.6 L402.2 329.2Z" stroke-width="1.0" />
<path d="M394.0 324.5 L394.0 333.3" stroke-width="1.0" />
<path d="M402.2 329.2 L402.2 338.0" stroke-width="1.0" />
<path d="M411.0 324.6 L411.0 333.4" stroke-width="1.0" />
<path d="M394.0 333.3 L402.2 338.0 L411.0 333.4" stroke-width="1.0" />
<path d="M397.0 336.6 L413.6 326.9" stroke-width="1.6" />
<path d="M389.1 344.5 L406.7 334.7 L424.3 343.5 L406.7 353.2Z" stroke-width="1.0" />
<path d="M389.1 344.5 L389.1 358.1" stroke-width="1.0" />
<path d="M406.7 353.2 L406.7 367.9" stroke-width="1.0" />
<path d="M424.3 343.5 L424.3 354.2" stroke-width="1.0" />
<path d="M402.8 350.7 L414.1 344.8 L423.3 349.7 L412.0 355.6Z" stroke-width="1.0" />
<path d="M402.8 350.7 L402.8 368.9" stroke-width="1.0" />
<path d="M412.0 355.6 L412.0 365.9" stroke-width="1.0" />
<path d="M423.3 349.7 L423.3 358.1" stroke-width="1.0" />
<path d="M412.6 342.5 L412.6 350.3" stroke-width="1.0" />
<path d="M409.6 340.9 L412.6 342.5" stroke-width="1.6" />
<path d="M387.2 354.2 L398.9 358.1 L398.9 377.7" stroke-width="1.0" />
<path d="M385.2 356.2 L385.2 367.9" stroke-width="1.0" />
<path d="M380.4 358.1 L380.4 365.9" stroke-width="1.0" />
<path d="M404.0 368.1 L449.4 344.3" stroke-width="1.0" />
<path d="M404.7 367.7 L411.3 371.4" stroke-width="1.0" />
<path d="M410.9 364.4 L417.5 368.1" stroke-width="1.0" />
<path d="M417.1 361.2 L423.7 364.9" stroke-width="1.0" />
<path d="M423.3 357.9 L429.9 361.7" stroke-width="1.0" />
<path d="M429.5 354.7 L436.1 358.4" stroke-width="1.0" />
<path d="M435.7 351.4 L442.3 355.2" stroke-width="1.0" />
<path d="M441.8 348.2 L448.4 351.9" stroke-width="1.0" />
<path d="M404.0 368.1 L404.0 374.3" stroke-width="1.0" />
<path d="M437.0 344.5 L444.8 340.5 L444.8 348.4 L438.0 351.9" stroke-width="1.0" />
<path d="M437.0 344.5 L437.0 351.3" stroke-width="1.0" />
<path d="M424.3 344.5 L436.0 351.3" stroke-width="1.0" />
<path d="M426.2 338.6 L445.8 349.9" stroke-width="1.0" />
<path d="M387.3 272.5 L395.1 268.6 L395.5 270.6 L399.0 270.2 L399.4 272.9 L401.0 276.8 L401.4 283.1 L401.8 288.6 L401.0 291.3 L399.4 294.0 L393.6 296.8 L390.1 294.8 L386.9 293.2 L386.2 281.5Z" stroke-width="1.0" />
<path d="M387.7 272.9 L387.9 280.8" stroke-width="2" />
<path d="M392.0 274.5 L392.8 287.8" stroke-width="2" />
<path d="M389.3 273.3 L389.7 290.9 L391.6 291.7 L393.6 288.6" stroke-width="1.0" />
<path d="M395.1 269.4 L392.8 273.7 L394.4 290.9 L394.8 294.8" stroke-width="1.0" />
<path d="M394.4 290.9 L401.4 287.8" stroke-width="1.0" />
<path d="M390.6 296.7 L390.6 352.0" stroke-width="1.0" stroke-dasharray="10 3"/>
<path d="M437.9 264.9 L416.4 264.9 L401.8 276.1" stroke-width="1.0" />
<path d="M440.4 258.5 L445.5 258.5 L447.1 259.9 L447.1 262.6 L445.3 264.0 L447.5 265.6 L447.5 268.2 L445.5 270.0 L440.4 270.0 L438.4 268.2 L438.4 265.6 L440.6 264.0 L438.8 262.6 L438.8 259.9 L440.4 258.5M440.6 264.0 L445.3 264.0M452.8 260.3 L454.8 258.5 L460.8 258.5 L462.8 260.3 L462.8 262.6 L460.8 264.2 L454.8 265.0 L452.8 266.6 L452.8 270.0 L462.8 270.0M467.6 260.3 L469.6 258.5 L475.6 258.5 L477.6 260.3 L477.6 262.6 L475.6 264.2 L469.6 265.0 L467.6 266.6 L467.6 270.0 L477.6 270.0M482.7 260.8 L485.2 258.5 L485.2 270.0M482.4 270.0 L487.5 270.0M492.6 260.3 L494.6 258.5 L500.6 258.5 L502.6 260.3 L502.6 262.6 L500.6 264.2 L494.6 265.0 L492.6 266.6 L492.6 270.0 L502.6 270.0" stroke-width="1.0" />
<path d="M507.1 264.3 L629.8 264.3" stroke-width="1.0" />
<path d="M421.3 275.3 L427.2 271.4 L435.4 276.5 L429.9 280.8Z" stroke-width="1.0" />
<path d="M421.3 275.3 L422.5 293.6 L429.5 296.8 L435.8 293.6 L435.4 276.5" stroke-width="1.0" />
<path d="M429.9 280.8 L429.5 296.8" stroke-width="1.0" />
<path d="M422.1 277.6 L429.1 283.1 L435.0 278.0" stroke-width="1.0" />
<path d="M425.6 284.7 L426.0 294.8" stroke-width="1.0" />
<path d="M432.0 281.4 L486.0 281.4" stroke-width="1.0" />
<path d="M490.1 274.6 L495.1 274.6 L496.6 276.2 L496.6 279.1 L494.9 280.7 L497.0 282.4 L497.0 285.3 L495.1 287.3 L490.1 287.3 L488.1 285.3 L488.1 282.4 L490.3 280.7 L488.5 279.1 L488.5 276.2 L490.1 274.6M490.3 280.7 L494.9 280.7M502.3 276.6 L504.2 274.6 L510.1 274.6 L512.1 276.6 L512.1 279.1 L510.1 280.9 L504.2 281.8 L502.3 283.6 L502.3 287.3 L512.1 287.3M516.8 276.6 L518.7 274.6 L524.6 274.6 L526.6 276.6 L526.6 279.1 L524.6 280.9 L518.7 281.8 L516.8 283.6 L516.8 287.3 L526.6 287.3M531.6 277.1 L534.0 274.6 L534.0 287.3M531.2 287.3 L536.3 287.3M543.4 274.6 L546.7 274.6 L548.9 276.6 L548.9 285.3 L546.7 287.3 L543.4 287.3 L541.3 285.3 L541.3 276.6 L543.4 274.6M555.4 274.6 L562.0 274.6 L564.1 276.2 L564.1 279.3 L562.0 280.9 L564.1 282.4 L564.1 285.7 L562.0 287.3 L555.4 287.3M556.9 274.6 L556.9 287.3M556.9 280.9 L562.0 280.9M567.8 281.0 L578.1 281.0M568.6 275.9 L577.3 286.0M577.3 275.9 L568.6 286.0M582.9 287.3 L582.9 283.5 L587.9 274.6 L592.9 283.5 L592.9 287.3M582.9 283.5 L592.9 283.5" stroke-width="1.0" />
<path d="M593.9 281.3 L629.8 281.3" stroke-width="1.0" />
<path d="M429.5 296.8 L429.5 303.4 L422.9 306.9" stroke-width="1.0" />
<path d="M422.9 306.9 L401.8 319.0" stroke-width="1.0" stroke-dasharray="11 4" stroke-dashoffset="8"/>
<path d="M446.4 286.4 L454.2 282.1 L469.6 289.8 L461.9 294.1Z" stroke-width="1.0" />
<path d="M446.4 286.4 L447.3 304.4 L461.1 309.6 L469.6 307.9 L469.6 289.8" stroke-width="1.0" />
<path d="M461.9 294.1 L461.1 309.6" stroke-width="1.0" />
<path d="M449.9 305.6 L449.9 311.3 L454.2 307.4" stroke-width="1.0" />
<path d="M457.6 308.7 L458.5 315.6 L461.9 310.1" stroke-width="1.0" />
<path d="M462.8 309.6 L467.1 315.6 L467.1 308.4" stroke-width="1.0" />
<path d="M469.6 304.4 L490.5 304.4" stroke-width="1.0" />
<circle cx="501.8" cy="304.8" r="11.2" stroke-width="1.0"/>
<path d="M496.6 300.7 L498.7 298.8 L504.9 298.8 L507.0 300.7 L507.0 303.1 L504.9 304.7 L498.7 305.6 L496.6 307.3 L496.6 310.8 L507.0 310.8" stroke-width="1.0" />
<path d="M517.8 298.1 L522.9 298.1 L524.5 299.6 L524.5 302.4 L522.7 303.9 L524.9 305.6 L524.9 308.4 L522.9 310.3 L517.8 310.3 L515.8 308.4 L515.8 305.6 L518.0 303.9 L516.2 302.4 L516.2 299.6 L517.8 298.1M518.0 303.9 L522.7 303.9M530.2 300.0 L532.2 298.1 L538.2 298.1 L540.2 300.0 L540.2 302.4 L538.2 304.1 L532.2 305.0 L530.2 306.7 L530.2 310.3 L540.2 310.3M555.0 298.1 L545.0 298.1M546.5 298.1 L546.5 303.4 L552.8 303.4 L555.0 305.2 L555.0 308.4 L552.8 310.3 L547.2 310.3 L545.0 308.4M561.4 298.1 L564.7 298.1 L567.0 300.0 L567.0 308.4 L564.7 310.3 L561.4 310.3 L559.2 308.4 L559.2 300.0 L561.4 298.1M571.5 300.5 L574.0 298.1 L574.0 310.3M571.2 310.3 L576.3 310.3M581.4 298.1 L587.4 298.1 L590.3 300.5 L590.3 307.9 L587.4 310.3 L581.4 310.3M582.9 298.1 L582.9 310.3M595.4 304.2 L605.8 304.2M596.2 299.3 L605.0 309.1M605.0 299.3 L596.2 309.1M610.7 310.3 L610.7 306.6 L615.8 298.1 L620.9 306.6 L620.9 310.3M610.7 306.6 L620.9 306.6" stroke-width="1.0" />
<path d="M621.4 304.4 L629.8 304.4" stroke-width="1.0" />
<path d="M447.3 306.2 L418.1 322.5" stroke-width="1.0" stroke-dasharray="11 4"/>
<path d="M487.6 327.8 L490.5 324.9 L496.4 327.8 L496.4 334.6 L493.4 335.6 L488.6 332.7Z" stroke-width="1.0" />
<path d="M487.6 327.8 L493.0 330.3 L496.4 327.8" stroke-width="1.0" />
<path d="M493.0 330.3 L493.4 341.5" stroke-width="1.0" />
<path d="M489.5 333.1 L489.5 337.6" stroke-width="1.6" />
<path d="M495.0 335.2 L495.0 339.5" stroke-width="1.0" />
<path d="M496.4 331.3 L505.2 331.3" stroke-width="1.0" />
<path d="M508.2 325.1 L513.2 325.1 L514.8 326.6 L514.8 329.4 L513.0 330.9 L515.2 332.6 L515.2 335.4 L513.2 337.3 L508.2 337.3 L506.2 335.4 L506.2 332.6 L508.4 330.9 L506.6 329.4 L506.6 326.6 L508.2 325.1M508.4 330.9 L513.0 330.9M520.5 327.0 L522.4 325.1 L528.4 325.1 L530.3 327.0 L530.3 329.4 L528.4 331.1 L522.4 332.0 L520.5 333.7 L520.5 337.3 L530.3 337.3M535.0 327.0 L537.0 325.1 L542.9 325.1 L544.9 327.0 L544.9 329.4 L542.9 331.1 L537.0 332.0 L535.0 333.7 L535.0 337.3 L544.9 337.3M550.0 327.5 L552.4 325.1 L552.4 337.3M549.6 337.3 L554.7 337.3M561.9 325.1 L565.2 325.1 L567.4 327.0 L567.4 335.4 L565.2 337.3 L561.9 337.3 L559.7 335.4 L559.7 327.0 L561.9 325.1M571.6 337.3 L571.6 333.6 L576.6 325.1 L581.7 333.6 L581.7 337.3M571.6 333.6 L581.7 333.6M586.5 331.2 L596.8 331.2M587.2 326.3 L596.0 336.1M596.0 326.3 L587.2 336.1M601.6 337.3 L601.6 333.6 L606.7 325.1 L611.7 333.6 L611.7 337.3M601.6 333.6 L611.7 333.6" stroke-width="1.0" />
<path d="M612.2 331.3 L629.8 331.3" stroke-width="1.0" />
<path d="M437.9 336.2 L437.9 322.5 L443.9 324.2" stroke-width="1.0" />
<path d="M448.2 326.8 L486.0 347.4" stroke-width="1.0" stroke-dasharray="11 4"/>
<path d="M485.6 348.3 L492.5 352.2 L492.5 347.3" stroke-width="1.0" />
<path d="M492.8 341.5 L492.8 346.0" stroke-width="1.0" />
<path d="M398.5 190.6 L403.6 190.6 L405.2 192.2 L405.2 195.1 L403.4 196.7 L405.6 198.4 L405.6 201.3 L403.6 203.3 L398.5 203.3 L396.5 201.3 L396.5 198.4 L398.7 196.7 L396.9 195.1 L396.9 192.2 L398.5 190.6M398.7 196.7 L403.4 196.7M410.9 192.6 L412.9 190.6 L418.9 190.6 L420.9 192.6 L420.9 195.1 L418.9 196.9 L412.9 197.8 L410.9 199.6 L410.9 203.3 L420.9 203.3M435.7 190.6 L425.7 190.6M427.2 190.6 L427.2 196.1 L433.4 196.1 L435.7 198.0 L435.7 201.3 L433.4 203.3 L427.9 203.3 L425.7 201.3M442.1 190.6 L445.4 190.6 L447.6 192.6 L447.6 201.3 L445.4 203.3 L442.1 203.3 L439.9 201.3 L439.9 192.6 L442.1 190.6M452.2 193.1 L454.6 190.6 L454.6 203.3M451.8 203.3 L456.9 203.3M462.0 190.6 L468.0 190.6 L470.9 193.1 L470.9 200.8 L468.0 203.3 L462.0 203.3M463.6 190.6 L463.6 203.3M476.0 196.9 L486.4 196.9M476.8 191.9 L485.7 202.0M485.7 191.9 L476.8 202.0M491.3 190.6 L498.0 190.6 L500.2 192.2 L500.2 195.3 L498.0 196.9 L500.2 198.4 L500.2 201.7 L498.0 203.3 L491.3 203.3M492.9 190.6 L492.9 203.3M492.9 196.9 L498.0 196.9" stroke-width="1.0" />
<path d="M515.7 189.6 L511.2 194.3 L511.2 197.1 L515.7 201.8" stroke-width="1.0" />
<path d="M531.7 195.7 L541.2 195.7M547.1 189.6 L545.6 192.4" stroke-width="1.0" />
<path d="M560.4 189.6 L563.7 189.6 L565.9 191.5 L565.9 199.9 L563.7 201.8 L560.4 201.8 L558.2 199.9 L558.2 191.5 L560.4 189.6" stroke-width="1.0" />
<path d="M572.7 189.6 L582.5 189.6 L575.8 201.8M586.4 201.8 L586.4 189.6 L591.1 196.6 L595.8 189.6 L595.8 201.8M600.3 189.6 L605.0 195.7 L609.7 189.6M605.0 195.7 L605.0 201.8M614.2 189.6 L618.7 194.3 L618.7 197.1 L614.2 201.8" stroke-width="1.0" />
<path d="M358.0 194.0 L369.8 194.0" stroke-width="1.0" />
<path d="M621.0 194.0 L629.8 194.0" stroke-width="1.0" />
<path d="M424.4 213.2 L429.5 213.2 L431.1 214.7 L431.1 217.5 L429.3 219.0 L431.5 220.6 L431.5 223.4 L429.5 225.3 L424.4 225.3 L422.4 223.4 L422.4 220.6 L424.6 219.0 L422.8 217.5 L422.8 214.7 L424.4 213.2M424.6 219.0 L429.3 219.0M436.9 215.1 L438.9 213.2 L444.9 213.2 L446.9 215.1 L446.9 217.5 L444.9 219.2 L438.9 220.1 L436.9 221.8 L436.9 225.3 L446.9 225.3M461.7 213.2 L451.7 213.2M453.3 213.2 L453.3 218.4 L459.5 218.4 L461.7 220.3 L461.7 223.4 L459.5 225.3 L453.9 225.3 L451.7 223.4M468.2 213.2 L471.5 213.2 L473.8 215.1 L473.8 223.4 L471.5 225.3 L468.2 225.3 L466.0 223.4 L466.0 215.1 L468.2 213.2M478.3 215.6 L480.8 213.2 L480.8 225.3M478.0 225.3 L483.1 225.3M488.2 213.2 L494.3 213.2 L497.2 215.6 L497.2 222.9 L494.3 225.3 L488.2 225.3M489.8 213.2 L489.8 225.3M502.3 219.2 L512.7 219.2M503.1 214.4 L512.0 224.1M512.0 214.4 L503.1 224.1M517.7 225.3 L517.7 221.7 L522.8 213.2 L527.9 221.7 L527.9 225.3M517.7 221.7 L527.9 221.7" stroke-width="1.0" />
<path d="M534.0 219.2 L629.8 219.2" stroke-width="1.0" />
<path d="M533.0 230.7 L538.0 230.7 L539.5 232.1 L539.5 234.8 L537.8 236.3 L540.0 237.9 L540.0 240.6 L538.0 242.4 L533.0 242.4 L531.1 240.6 L531.1 237.9 L533.3 236.3 L531.5 234.8 L531.5 232.1 L533.0 230.7M533.3 236.3 L537.8 236.3M545.1 232.5 L547.1 230.7 L552.9 230.7 L554.9 232.5 L554.9 234.8 L552.9 236.5 L547.1 237.4 L545.1 239.0 L545.1 242.4 L554.9 242.4M559.5 232.5 L561.4 230.7 L567.3 230.7 L569.2 232.5 L569.2 234.8 L567.3 236.5 L561.4 237.4 L559.5 239.0 L559.5 242.4 L569.2 242.4M573.9 232.5 L575.8 230.7 L581.8 230.7 L583.8 232.5 L583.8 234.8 L581.8 236.4 L583.8 237.9 L583.8 240.6 L581.8 242.4 L575.8 242.4 L573.9 240.6M577.1 236.4 L581.8 236.4M588.9 233.0 L591.2 230.7 L591.2 242.4M588.5 242.4 L593.5 242.4" stroke-width="1.0" />
<path d="M372.3 236.3 L529.0 236.3" stroke-width="1.0" />
<path d="M596.0 236.3 L629.8 236.3" stroke-width="1.0" />
<path d="M416.6 242.5 L421.7 242.5 L423.2 244.0 L423.2 246.9 L421.5 248.5 L423.7 250.2 L423.7 253.1 L421.7 255.0 L416.6 255.0 L414.6 253.1 L414.6 250.2 L416.8 248.5 L415.0 246.9 L415.0 244.0 L416.6 242.5M416.8 248.5 L421.5 248.5M429.0 244.4 L431.0 242.5 L436.9 242.5 L438.9 244.4 L438.9 246.9 L436.9 248.7 L431.0 249.6 L429.0 251.3 L429.0 255.0 L438.9 255.0M443.7 244.4 L445.7 242.5 L451.6 242.5 L453.6 244.4 L453.6 246.9 L451.6 248.7 L445.7 249.6 L443.7 251.3 L443.7 255.0 L453.6 255.0M458.7 245.0 L461.2 242.5 L461.2 255.0M458.4 255.0 L463.5 255.0M470.8 242.5 L474.1 242.5 L476.3 244.4 L476.3 253.1 L474.1 255.0 L470.8 255.0 L468.6 253.1 L468.6 244.4 L470.8 242.5M480.5 242.5 L487.1 242.5 L489.3 244.0 L489.3 247.1 L487.1 248.7 L489.3 250.2 L489.3 253.5 L487.1 255.0 L480.5 255.0M482.0 242.5 L482.0 255.0M482.0 248.7 L487.1 248.7M495.1 248.8 L505.5 248.8M495.9 243.8 L504.7 253.8M504.7 243.8 L495.9 253.8M510.4 242.5 L517.0 242.5 L519.2 244.0 L519.2 247.1 L517.0 248.7 L519.2 250.2 L519.2 253.5 L517.0 255.0 L510.4 255.0M511.9 242.5 L511.9 255.0M511.9 248.7 L517.0 248.7" stroke-width="1.0" />
<path d="M523.0 249.3 L641.9 249.3" stroke-width="1.0" />
<path d="M646.9 244.7 L652.0 244.7 L653.6 246.2 L653.6 249.1 L651.8 250.6 L654.0 252.3 L654.0 255.1 L652.0 257.0 L646.9 257.0 L644.9 255.1 L644.9 252.3 L647.1 250.6 L645.3 249.1 L645.3 246.2 L646.9 244.7M647.1 250.6 L651.8 250.6M659.3 246.6 L661.3 244.7 L667.3 244.7 L669.3 246.6 L669.3 249.1 L667.3 250.8 L661.3 251.7 L659.3 253.4 L659.3 257.0 L669.3 257.0M674.1 246.6 L676.1 244.7 L682.1 244.7 L684.1 246.6 L684.1 249.1 L682.1 250.8 L676.1 251.7 L674.1 253.4 L674.1 257.0 L684.1 257.0M696.2 257.0 L696.2 244.7 L688.8 253.5 L699.0 253.5M704.0 247.2 L706.5 244.7 L706.5 257.0M703.7 257.0 L708.8 257.0" stroke-width="1.0" />
<path d="M456.8 359.3 L629.8 359.3" stroke-width="1.0" />
<path d="M503.4 384.4 L508.5 384.4 L510.1 386.0 L510.1 389.1 L508.3 390.7 L510.5 392.5 L510.5 395.6 L508.5 397.6 L503.4 397.6 L501.4 395.6 L501.4 392.5 L503.6 390.7 L501.8 389.1 L501.8 386.0 L503.4 384.4M503.6 390.7 L508.3 390.7M515.8 386.4 L517.8 384.4 L523.8 384.4 L525.8 386.4 L525.8 389.1 L523.8 390.9 L517.8 391.9 L515.8 393.7 L515.8 397.6 L525.8 397.6M530.6 386.4 L532.6 384.4 L538.6 384.4 L540.6 386.4 L540.6 389.1 L538.6 390.9 L532.6 391.9 L530.6 393.7 L530.6 397.6 L540.6 397.6M545.7 387.0 L548.2 384.4 L548.2 397.6M545.4 397.6 L550.5 397.6M557.8 384.4 L561.2 384.4 L563.4 386.4 L563.4 395.6 L561.2 397.6 L557.8 397.6 L555.6 395.6 L555.6 386.4 L557.8 384.4M567.6 384.4 L573.6 384.4 L576.5 387.0 L576.5 395.0 L573.6 397.6 L567.6 397.6M569.2 384.4 L569.2 397.6" stroke-width="1.0" />
<path d="M585.2 392.4 L629.8 392.4" stroke-width="1.0" />
<path d="M494.8 392.4 L449.1 392.4 L406.4 417.2 L350.0 386.4 L276.6 386.4 L276.6 483.9 L155.8 483.9 L155.8 373.2 L190.5 373.2" stroke-width="1.0" />
<path d="M100.8 301.0 L98.7 306.3 L98.2 311.3 L100.0 317.5 L103.8 323.1 L108.8 327.6 L127.0 336.7 L149.4 346.9 L157.5 353.0 L174.8 360.1 L202.2 359.1 L226.6 352.0 L238.8 348.9 L253.0 343.2 L267.2 340.8 L280.4 339.8" stroke-width="1.0" />
<path d="M113.4 298.9 L109.4 305.0 L107.6 310.5 L109.3 315.6 L113.6 320.0 L127.0 327.6 L151.4 338.8 L177.8 350.9 L202.2 349.9 L226.6 343.8 L242.8 337.7 L263.1 332.7 L280.4 330.6" stroke-width="1.0" />
<path d="M157.5 353.0 L153.4 359.1 L141.3 363.1 L125.0 362.1 L117.9 357.0 L111.8 346.9 L105.7 345.9 L103.7 347.9 L105.7 354.0" stroke-width="1.0" />
<path d="M151.4 349.9 L147.3 354.0 L137.2 357.0 L127.0 356.0 L120.9 350.9 L114.8 342.8 L108.8 340.8 L101.6 341.8" stroke-width="1.0" />
<path d="M79.3 347.9 L97.6 338.8 L100.6 340.8 L103.7 355.0 L85.4 363.1Z" stroke-width="1.0" />
<path d="M97.6 338.8 L100.6 353.4" stroke-width="1.0" />
<path d="M280.4 328.6 L291.6 327.6 L291.6 342.8 L280.4 343.8Z" stroke-width="1.0" />
<path d="M238.8 349.3 L232.7 371.3 L229.3 378.3 L226.3 396.5 L227.3 412.8 L224.3 427.0 L220.8 441.2 L221.2 450.4 L226.3 456.4 L234.4 458.1 L242.5 454.4 L246.0 447.3 L246.0 438.2 L242.1 427.0 L240.9 414.8 L241.5 403.7 L240.5 390.5 L245.6 385.4 L252.7 383.4 L258.8 385.4 L257.8 388.4 L252.7 390.5 L247.6 392.5 L245.6 400.6" stroke-width="1.0" />
<path d="M243.8 347.9 L236.7 371.3 L233.4 378.3 L230.4 396.5 L231.4 412.8 L229.3 427.0 L226.3 440.2 L227.3 447.3 L231.4 451.8 L235.4 451.8 L239.5 448.3 L240.9 441.2 L237.5 427.0 L236.4 414.8 L238.5 403.7 L242.5 399.6 L245.6 395.5" stroke-width="1.0" />
<ellipse cx="251.7" cy="387.0" rx="6.1" ry="3.6" stroke-width="1.0" transform="rotate(-8 251.7 387.0)"/>
<ellipse cx="251.7" cy="387.0" rx="3.0" ry="1.7" stroke-width="1.0" transform="rotate(-8 251.7 387.0)"/>
<ellipse cx="197.5" cy="374.2" rx="7.1" ry="4.4" stroke-width="1.0"/>
<ellipse cx="197.5" cy="374.0" rx="3.5" ry="2.0" stroke-width="1.0"/>
<path d="M190.4 374.6 L190.4 379.3 L194.8 382.3 L200.9 382.3 L205.0 379.3 L205.0 374.6" stroke-width="1.0" />
<path d="M194.8 378.7 L194.8 382.3" stroke-width="1.0" />
<path d="M200.9 378.7 L200.9 382.3" stroke-width="1.0" />
<path d="M194.8 384.4 L194.8 389.4" stroke-width="1.0" />
<path d="M194.8 392.5 L194.8 395.5" stroke-width="1.0" />
<path d="M173.5 398.6 L189.7 393.5 L190.8 397.6 L193.8 398.6 L198.9 394.9 L206.0 407.7 L206.0 413.8 L197.9 416.4 L195.8 413.2 L184.3 413.2 L183.7 417.5 L181.6 419.3 L178.6 417.3Z" stroke-width="1.0" />
<path d="M189.7 393.5 L190.8 392.5 L197.9 394.5 L198.9 396.5" stroke-width="1.0" />
<path d="M181.6 413.8 L181.6 407.7 L184.7 403.7 L190.8 403.0 L194.4 406.3 L194.8 413.2" stroke-width="1.0" />
<path d="M184.3 413.2 L184.3 408.7 L186.3 406.3 L190.4 405.9 L192.4 408.3 L192.4 413.2" stroke-width="1.0" />
<ellipse cx="187.7" cy="409.3" rx="2.0" ry="1.2" stroke-width="1.0"/>
<path d="M175.5 401.6 L179.6 415.8" stroke-width="1.0" />
<path d="M194.8 408.7 L206.0 407.7" stroke-width="1.0" />
<path d="M200.9 396.5 L213.1 390.5 L223.2 390.5" stroke-width="1.0" />
<path d="M229.3 390.5 L240.5 390.5" stroke-width="1.0" />
<path d="M192.4 414.8 L192.4 461.0" stroke-width="1.0" />
<path d="M192.4 475.7 L192.4 483.9" stroke-width="1.0" />
<path d="M120.0 432.6 L125.0 432.6 L126.5 434.1 L126.5 436.8 L124.7 438.2 L126.9 439.9 L126.9 442.6 L125.0 444.4 L120.0 444.4 L118.0 442.6 L118.0 439.9 L120.2 438.2 L118.4 436.8 L118.4 434.1 L120.0 432.6M120.2 438.2 L124.7 438.2M132.5 435.0 L134.8 432.6 L134.8 444.4M132.1 444.4 L137.1 444.4M151.5 434.4 L149.5 432.6 L144.1 432.6 L142.1 434.4 L142.1 442.6 L144.1 444.4 L149.5 444.4 L151.5 442.6 L151.5 439.9 L149.5 438.2 L142.1 438.2M158.2 432.6 L163.2 432.6 L164.7 434.1 L164.7 436.8 L163.0 438.2 L165.2 439.9 L165.2 442.6 L163.2 444.4 L158.2 444.4 L156.2 442.6 L156.2 439.9 L158.4 438.2 L156.7 436.8 L156.7 434.1 L158.2 432.6M158.4 438.2 L163.0 438.2M170.4 432.6 L180.8 432.6 L173.6 444.4" stroke-width="1.0" />
<path d="M163.4 462.6 L168.5 462.6 L170.0 464.0 L170.0 466.5 L168.3 467.8 L170.5 469.4 L170.5 471.9 L168.5 473.6 L163.4 473.6 L161.4 471.9 L161.4 469.4 L163.6 467.8 L161.8 466.5 L161.8 464.0 L163.4 462.6M163.6 467.8 L168.3 467.8M175.8 464.3 L177.8 462.6 L183.7 462.6 L185.7 464.3 L185.7 466.5 L183.7 468.0 L177.8 468.9 L175.8 470.4 L175.8 473.6 L185.7 473.6M190.5 464.3 L192.5 462.6 L198.4 462.6 L200.4 464.3 L200.4 466.5 L198.4 468.0 L192.5 468.9 L190.5 470.4 L190.5 473.6 L200.4 473.6M205.5 464.8 L207.9 462.6 L207.9 473.6M205.2 473.6 L210.3 473.6M217.5 462.6 L220.9 462.6 L223.1 464.3 L223.1 471.9 L220.9 473.6 L217.5 473.6 L215.3 471.9 L215.3 464.3 L217.5 462.6M237.0 462.6 L227.3 462.6 L227.3 473.6 L237.0 473.6M227.3 467.9 L233.9 467.9" stroke-width="1.0" />
<path d="M233.5 270.8 L238.5 270.8 L240.0 272.4 L240.0 275.4 L238.3 277.0 L240.5 278.8 L240.5 281.8 L238.5 283.8 L233.5 283.8 L231.5 281.8 L231.5 278.8 L233.7 277.0 L231.9 275.4 L231.9 272.4 L233.5 270.8M233.7 277.0 L238.3 277.0M246.0 273.4 L248.5 270.8 L248.5 283.8M245.7 283.8 L250.8 283.8M255.8 281.8 L257.8 283.8 L263.2 283.8 L265.2 281.8 L265.2 272.8 L263.2 270.8 L257.8 270.8 L255.8 272.8 L255.8 275.8 L257.8 277.6 L265.2 277.6M270.0 272.8 L272.0 270.8 L278.1 270.8 L280.1 272.8 L280.1 275.4 L278.1 277.1 L280.1 278.8 L280.1 281.8 L278.1 283.8 L272.0 283.8 L270.0 281.8M273.3 277.1 L278.1 277.1M285.2 273.4 L287.6 270.8 L287.6 283.8M284.9 283.8 L289.9 283.8M294.9 283.8 L294.9 270.8 L302.6 270.8 L304.8 272.6 L304.8 275.6 L302.6 277.4 L294.9 277.4M299.3 277.4 L305.0 283.8" stroke-width="1.0" />
<path d="M360.1 520.1 L321.5 451.0 L321.5 416.4 L329.6 414.4 L329.6 407.3 L339.8 401.2 L342.8 402.2 L342.8 407.3 L359.1 398.5 L466.8 458.1 L467.8 460.1 L468.8 471.3 L466.8 474.3" stroke-width="1.0" />
<path d="M332.7 409.3 L333.7 405.2 L338.8 403.2 L338.8 406.3" stroke-width="1.0" />
<path d="M359.1 398.5 L359.1 428.6" stroke-width="1.0" />
<path d="M339.8 483.5 L339.8 448.9 L362.1 431.7 L366.2 435.7 L366.2 487.5" stroke-width="1.0" />
<path d="M351.0 500.7 L366.2 487.5 L373.3 482.5 L395.7 473.3 L414.0 470.3" stroke-width="1.0" />
<path d="M422.1 470.3 L446.5 471.3" stroke-width="1.0" />
<path d="M417.0 448.9 L415.0 449.9 L415.0 473.3" stroke-width="1.0" />
<path d="M321.5 440.8 L305.2 432.7 L304.2 427.6 L299.1 433.7 L299.1 444.9 L302.2 448.9 L302.2 465.2 L309.3 469.3 L309.3 520.1" stroke-width="1.0" />
<path d="M299.1 433.7 L314.4 438.8 L315.4 449.9" stroke-width="1.0" />
<path d="M299.1 444.9 L315.4 455.0" stroke-width="1.0" />
<path d="M302.2 520.1 L303.2 511.9 L307.3 509.9 L307.3 520.1" stroke-width="1.0" />
<path d="M425.1 435.7 L428.2 424.5 L432.2 422.5 L438.3 425.6 L441.4 411.3 L446.5 408.3 L454.6 411.3 L456.6 416.4 L449.5 448.9" stroke-width="1.0" />
<path d="M425.1 435.7 L449.5 443.9" stroke-width="1.0" />
<path d="M443.2 422.5 L444.5 421.2 L446.5 421.2 L447.8 422.5 L447.8 424.5 L446.5 425.8 L444.5 425.8 L443.2 424.5Z" stroke-width="1.0" />
<path d="M444.4 423.5 L273.0 522.5" stroke-width="1.0" stroke-dasharray="14 4"/>
<path d="M467.8 463.2 L505.0 463.2" stroke-width="1.0" />
<path d="M510.5 456.3 L515.6 456.3 L517.1 457.9 L517.1 460.9 L515.3 462.5 L517.5 464.3 L517.5 467.3 L515.6 469.3 L510.5 469.3 L508.5 467.3 L508.5 464.3 L510.7 462.5 L508.9 460.9 L508.9 457.9 L510.5 456.3M510.7 462.5 L515.3 462.5M522.8 458.3 L524.8 456.3 L530.8 456.3 L532.7 458.3 L532.7 460.9 L530.8 462.7 L524.8 463.7 L522.8 465.5 L522.8 469.3 L532.7 469.3M537.5 458.3 L539.5 456.3 L545.4 456.3 L547.4 458.3 L547.4 460.9 L545.4 462.7 L539.5 463.7 L537.5 465.5 L537.5 469.3 L547.4 469.3M559.4 469.3 L559.4 456.3 L552.1 465.6 L562.3 465.6M566.9 458.3 L568.9 456.3 L575.0 456.3 L577.0 458.3 L577.0 460.9 L575.0 462.6 L577.0 464.3 L577.0 467.3 L575.0 469.3 L568.9 469.3 L566.9 467.3M570.2 462.6 L575.0 462.6M581.9 469.3 L581.9 465.4 L586.9 456.3 L592.0 465.4 L592.0 469.3M581.9 465.4 L592.0 465.4" stroke-width="1.0" />
<path d="M309.3 500.0 L309.3 538.6 L312.4 543.7 L318.4 545.7 L318.4 569.1 L323.5 576.2 L327.6 578.2 L328.6 555.9 L333.7 551.8 L336.7 547.8 L335.7 530.5 L323.5 549.8 L323.5 576.2" stroke-width="1.0" />
<path d="M318.4 539.6 L329.6 521.3 L330.6 527.4 L323.5 547.8" stroke-width="1.0" />
<path d="M318.4 558.9 L321.5 558.9 L322.1 569.1 L318.4 568.1" stroke-width="1.0" />
<path d="M290.0 571.1 L317.4 567.1" stroke-width="1.0" stroke-dasharray="12 4"/>
<path d="M301.2 513.2 L307.3 511.2 L307.3 526.4 L301.2 527.4Z" stroke-width="1.0" />
<path d="M351.0 500.0 L362.1 521.3 L362.1 552.8 L366.2 558.9 L373.3 561.0 L381.4 559.9 L381.4 619.9 L379.4 626.4 L373.3 628.4 L367.2 626.0 L365.2 615.8 L366.2 558.9" stroke-width="1.0" />
<path d="M362.1 548.8 L364.2 539.6 L368.2 547.8 L372.3 548.8 L378.4 543.7 L378.8 560.6" stroke-width="1.0" />
<path d="M333.7 551.8 L344.9 565.0 L357.1 589.4 L361.1 597.5 L362.1 613.8 L366.2 624.0" stroke-width="1.0" />
<path d="M398.7 573.2 L397.7 554.9" stroke-width="1.0" />
<path d="M401.8 533.5 L401.8 571.1 L407.9 570.1 L408.9 533.5 L404.8 530.5Z" stroke-width="1.0" />
<path d="M469.1 470.6 L468.3 476.9 L447.2 497.2 L438.6 508.1 L430.0 520.6 L422.2 533.1 L413.6 548.8 L408.9 558.9 L399.7 575.2 L395.7 587.4 L382.5 618.9" stroke-width="1.0" />
<path d="M465.9 461.2 L445.6 471.4 L432.3 478.4 L430.8 480.8 L430.8 487.0 L417.5 501.9 L398.8 522.2 L398.0 555.0" stroke-width="1.0" />
<path d="M467.5 470.6 L458.1 476.1 L437.8 487.0 L433.9 490.9 L433.1 496.4 L437.8 496.4 L438.6 506.6 L426.9 520.6 L419.1 530.0 L410.5 547.2 L408.1 555.0" stroke-width="1.0" />
<path d="M394.8 538.6 L394.8 493.3 L398.8 491.7 L417.5 501.9" stroke-width="1.0" />
<path d="M398.8 516.7 L401.9 515.9 L398.8 522.2" stroke-width="1.0" />
<path d="M433.9 496.4 L433.9 501.9 L431.6 499.5 L426.9 505.0 L430.0 507.3 L432.3 506.6 L432.3 512.8 L426.9 519.8 L425.3 515.2" stroke-width="1.0" />
<path d="M417.5 512.8 L412.8 517.5 L408.1 523.8 L408.9 526.1 L415.9 517.5 L419.1 515.9 L419.1 526.1 L416.7 526.9" stroke-width="1.0" />
<path d="M401.9 529.2 L405.8 531.6 L408.9 532.3 L406.6 536.2 L404.2 534.7 L403.4 555.0" stroke-width="1.0" />
<path d="M401.8 571.1 L393.6 581.3 L387.5 588.4 L386.5 601.6 L381.4 612.8" stroke-width="1.0" />
<path d="M390.6 588.4 L395.7 587.4 L394.7 597.5 L390.6 598.6Z" stroke-width="1.0" />
<path d="M120.1 541.3 L120.1 529.1 L125.1 536.1 L130.1 529.1 L130.1 541.3M135.2 531.5 L137.6 529.1 L137.6 541.3M134.9 541.3 L139.8 541.3M144.8 531.0 L146.8 529.1 L152.6 529.1 L154.6 531.0 L154.6 533.4 L152.6 535.1 L146.8 536.0 L144.8 537.7 L144.8 541.3 L154.6 541.3M161.4 529.1 L164.7 529.1 L166.8 531.0 L166.8 539.4 L164.7 541.3 L161.4 541.3 L159.3 539.4 L159.3 531.0 L161.4 529.1M171.3 531.5 L173.7 529.1 L173.7 541.3M171.0 541.3 L176.0 541.3M181.3 531.5 L183.7 529.1 L183.7 541.3M180.9 541.3 L185.9 541.3M190.9 531.0 L192.9 529.1 L198.9 529.1 L200.9 531.0 L200.9 533.4 L198.9 535.0 L200.9 536.6 L200.9 539.4 L198.9 541.3 L192.9 541.3 L190.9 539.4M194.2 535.0 L198.9 535.0" stroke-width="1.0" />
<path d="M202.8 535.2 L241.5 535.2" stroke-width="1.0" />
<path d="M241.9 532.5 L246.9 526.9 L250.0 524.8 L253.8 525.6 L258.1 530.0 L259.4 535.6 L258.1 540.6 L255.0 542.5 L247.5 543.1 L244.4 540.6 L241.9 535.6Z" stroke-width="1.0" />
<path d="M246.9 526.9 L251.2 528.8 L253.8 533.8 L253.8 541.9" stroke-width="1.0" />
<path d="M250.0 524.8 L255.0 526.9 L257.5 532.5 L257.5 540.6" stroke-width="1.0" />
<path d="M256.2 527.5 L268.8 521.0 L271.9 523.8 L271.9 527.5 L259.4 533.8" stroke-width="1.0" />
<path d="M258.8 526.2 L261.2 529.0 L261.5 532.2" stroke-width="1.0" />
<path d="M261.9 524.6 L264.4 527.3 L264.6 530.6" stroke-width="1.0" />
<path d="M265.0 523.0 L267.5 525.7 L267.8 529.0" stroke-width="1.0" />
<path d="M272.5 521.9 L275.6 520.0" stroke-width="1.0" />
<path d="M118.2 586.3 L118.2 574.0 L123.2 581.1 L128.2 574.0 L128.2 586.3M133.2 576.5 L135.6 574.0 L135.6 586.3M132.9 586.3 L137.9 586.3M142.9 575.9 L144.8 574.0 L150.7 574.0 L152.6 575.9 L152.6 578.4 L150.7 580.1 L144.8 581.0 L142.9 582.7 L142.9 586.3 L152.6 586.3M159.4 574.0 L162.7 574.0 L164.8 575.9 L164.8 584.4 L162.7 586.3 L159.4 586.3 L157.3 584.4 L157.3 575.9 L159.4 574.0M169.3 576.5 L171.6 574.0 L171.6 586.3M168.9 586.3 L173.9 586.3M179.2 576.5 L181.6 574.0 L181.6 586.3M178.9 586.3 L183.9 586.3M188.8 575.9 L190.8 574.0 L196.9 574.0 L198.8 575.9 L198.8 578.4 L196.9 580.0 L198.8 581.6 L198.8 584.4 L196.9 586.3 L190.8 586.3 L188.8 584.4M192.1 580.0 L196.9 580.0" stroke-width="1.0" />
<path d="M202.1 580.5 L240.1 580.5" stroke-width="1.0" />
<path d="M240.6 574.4 L244.4 571.9 L248.1 571.2 L250.0 568.8 L251.9 571.2 L253.8 576.9 L254.4 585.0 L252.5 588.1 L248.8 586.9 L245.0 587.5 L241.9 585.0 L240.6 580.0Z" stroke-width="1.0" />
<path d="M244.4 571.9 L246.2 576.2 L246.2 582.5 L245.0 587.5" stroke-width="1.0" />
<path d="M246.2 576.2 L251.2 575.0" stroke-width="1.0" />
<path d="M246.2 582.5 L252.2 583.1" stroke-width="1.0" />
<path d="M248.1 571.2 L250.6 575.0 L251.9 582.5 L248.8 586.9" stroke-width="1.0" />
<path d="M253.8 575.6 L268.8 571.2 L270.6 573.1 L271.2 576.2 L269.4 578.1 L254.4 581.2" stroke-width="1.0" />
<path d="M257.5 574.5 L259.2 577.0 L259.0 580.0" stroke-width="1.0" />
<path d="M261.2 573.4 L263.0 575.9 L262.8 578.9" stroke-width="1.0" />
<path d="M265.0 572.3 L266.8 574.8 L266.5 577.8" stroke-width="1.0" />
<path d="M272.5 574.4 L279.4 573.1" stroke-width="1.0" />
<path d="M283.1 572.5 L287.5 571.9" stroke-width="1.0" />
<path d="M521.6 544.2 L521.6 531.9 L526.6 539.0 L531.6 531.9 L531.6 544.2M536.7 534.4 L539.1 531.9 L539.1 544.2M536.4 544.2 L541.4 544.2M546.4 533.8 L548.3 531.9 L554.2 531.9 L556.2 533.8 L556.2 536.3 L554.2 538.0 L548.3 538.9 L546.4 540.6 L546.4 544.2 L556.2 544.2M563.0 531.9 L566.3 531.9 L568.5 533.8 L568.5 542.3 L566.3 544.2 L563.0 544.2 L560.8 542.3 L560.8 533.8 L563.0 531.9M572.9 534.4 L575.3 531.9 L575.3 544.2M572.6 544.2 L577.6 544.2M582.9 534.4 L585.3 531.9 L585.3 544.2M582.6 544.2 L587.6 544.2M592.6 533.8 L594.6 531.9 L600.6 531.9 L602.6 533.8 L602.6 536.3 L600.6 537.9 L602.6 539.5 L602.6 542.3 L600.6 544.2 L594.6 544.2 L592.6 542.3M595.9 537.9 L600.6 537.9" stroke-width="1.0" />
<path d="M480.5 538.4 L518.8 538.4" stroke-width="1.0" />
<path d="M463.3 541.9 L465.6 536.4 L470.3 533.8 L475.0 534.8 L478.9 535.6 L480.5 538.4 L479.7 541.9 L475.8 540.6 L471.9 541.9 L471.1 549.7 L467.2 552.0 L464.1 548.1Z" stroke-width="1.0" />
<path d="M465.6 536.4 L468.8 539.5 L468.0 551.2" stroke-width="1.0" />
<path d="M468.8 539.5 L475.0 534.8" stroke-width="1.0" />
<ellipse cx="473.5" cy="543.5" rx="4.2" ry="5.5" stroke-width="1.0" transform="rotate(-20 473.5 543.5)"/>
<path d="M475.0 540.6 L489.8 548.1 L492.5 552.0 L490.9 555.9 L487.5 556.7 L471.9 549.7" stroke-width="1.0" />
<path d="M479.5 542.9 L476.6 545.7 L477.3 549.4" stroke-width="1.0" />
<path d="M483.2 544.8 L480.4 547.6 L481.0 551.3" stroke-width="1.0" />
<path d="M486.9 546.6 L484.1 549.4 L484.7 553.2" stroke-width="1.0" />
<path d="M493.0 553.6 L500.0 557.5" stroke-width="1.0" />
<path d="M503.9 559.8 L511.7 563.8" stroke-width="1.0" />
<path d="M518.8 557.5 L520.3 563.8 L526.6 570.0 L528.9 571.6 L528.9 584.1 L526.6 585.6 L522.7 590.3 L515.6 592.7 L512.5 590.3 L510.2 600.5 L500.8 609.1 L495.3 606.7 L494.5 596.6 L500.0 590.3 L503.9 589.5 L509.4 566.9 L514.1 564.5Z" stroke-width="1.0" />
<path d="M510.2 592.7 L510.2 582.5 L513.3 577.0 L517.2 576.2 L518.8 580.2 L515.6 592.7" stroke-width="1.0" />
<path d="M503.9 589.5 L501.6 605.2" stroke-width="1.0" />
<ellipse cx="515.6" cy="567.7" rx="1.0" ry="2.0" stroke-width="1.0"/>
<ellipse cx="498.1" cy="597.3" rx="0.9" ry="1.8" stroke-width="1.0"/>
<path d="M516.4 573.1 L518.8 573.9" stroke-width="1.0" />
<path d="M529.7 578.3 L566.4 578.3" stroke-width="1.0" />
<path d="M571.2 572.8 L576.2 572.8 L577.7 574.3 L577.7 577.0 L576.0 578.5 L578.2 580.2 L578.2 583.0 L576.2 584.8 L571.2 584.8 L569.3 583.0 L569.3 580.2 L571.5 578.5 L569.7 577.0 L569.7 574.3 L571.2 572.8M571.5 578.5 L576.0 578.5M583.7 575.2 L586.0 572.8 L586.0 584.8M583.3 584.8 L588.3 584.8M595.4 572.8 L598.7 572.8 L600.8 574.6 L600.8 583.0 L598.7 584.8 L595.4 584.8 L593.3 583.0 L593.3 574.6 L595.4 572.8M612.1 584.8 L612.1 572.8 L604.9 581.4 L614.9 581.4M619.7 575.2 L622.1 572.8 L622.1 584.8M619.4 584.8 L624.4 584.8M629.4 584.8 L629.4 581.2 L634.3 572.8 L639.3 581.2 L639.3 584.8M629.4 581.2 L639.3 581.2" stroke-width="1.0" />
<path class="f" d="M578.0 178.5 L588.5 168.6 L602.3 156.7 L615.9 145.9 L629.6 136.5 L643.3 128.5 L657.1 121.1 L671.0 115.1 L684.8 109.9 L698.7 105.4 L712.8 102.5 L725.4 100.6 L725.2 99.6 L712.6 101.5 L698.5 104.2 L684.2 108.1 L670.0 112.7 L655.7 117.9 L641.3 124.7 L627.0 132.1 L612.5 140.9 L598.1 151.3 L583.7 163.2 L573.0 173.1Z"/>
<path class="f" d="M683.9 359.2 L713.3 361.1 L745.9 367.1 L778.6 375.4 L811.3 386.9 L844.2 400.7 L866.1 412.3 L888.1 425.2 L907.8 438.0 L927.6 454.2 L943.0 469.3 L952.2 477.3 L952.8 476.5 L943.8 468.5 L928.6 453.0 L909.0 436.4 L889.5 423.0 L867.7 409.5 L845.8 397.1 L813.1 382.5 L780.2 370.0 L747.3 360.7 L714.3 353.5 L684.5 351.2Z"/>
<path d="M951.5 476.0 L970.5 499.0" stroke-width="1.0" />
<path d="M851.9 496.6 L860.6 481.3 L873.8 463.8 L908.8 436.4 L926.3 420.0 L917.5 430.0 L970.0 378.6 L1000.6 357.8 L1048.8 331.6 L1076.6 318.4 L1111.6 303.1 L1122.5 299.2 L1133.5 298.8 L1142.2 300.9 L1164.1 311.9 L1186.0 326.1 L1194.7 333.8 L1198.0 341.4 L1195.8 351.3" stroke-width="1.0" />
<path d="M1111.6 303.1 L1182.7 342.5 L1131.3 370.9 L1096.3 392.8 L1074.4 410.3 L1058.0 427.8" stroke-width="1.0" />
<path d="M1182.7 342.5 L1195.8 351.3 L1207.8 356.7 L1218.8 357.8 L1225.3 360.0 L1228.6 364.4 L1229.7 377.5 L1237.4 401.6 L1237.4 414.7 L1227.5 430.0 L1218.8 444.1" stroke-width="1.0" />
<path d="M1194.7 333.8 L1205.6 341.4 L1216.6 352.3 L1218.8 357.8" stroke-width="1.0" />
<path d="M1225.3 360.0 L1225.3 370.9 L1221.0 381.9 L1225.3 384.1 L1228.6 376.4" stroke-width="1.0" />
<path d="M1229.7 386.3 L1228.6 397.2 L1231.9 403.8 L1235.2 402.7" stroke-width="1.0" />
<path d="M970.0 378.6 L996.3 398.3 L1059.7 430.0 L1058.6 428.8" stroke-width="1.0" />
<path d="M1008.3 369.9 L1024.7 356.7 L1031.3 356.1 L1081.6 383.0 L1083.8 387.4 L1063.0 402.7 L1055.3 403.8 L1007.2 377.5 L1005.0 373.1Z" stroke-width="1.0" />
<path d="M930.6 414.7 L926.3 401.6 L928.4 397.2 L931.7 396.1 L935.0 398.3 L939.4 408.1" stroke-width="1.0" />
<path d="M1067.8 430.0 L1096.3 403.8 L1131.3 381.9 L1153.1 372.0 L1175.0 363.3 L1188.1 359.6 L1191.4 362.2 L1191.4 370.9 L1188.1 384.1 L1181.6 395.0 L1170.6 402.7" stroke-width="1.0" />
<path d="M1096.3 403.8 L1099.5 420.0 L1101.7 441.9 L1106.1 447.3 L1108.3 463.8 L1108.3 485.6 L1106.1 503.1" stroke-width="1.0" />
<path d="M1103.9 401.6 L1107.2 420.0 L1110.5 441.9" stroke-width="1.0" />
<path d="M1151.0 373.1 L1168.5 403.8" stroke-width="1.0" />
<path d="M1154.2 373.1 L1171.7 401.6 L1177.2 412.5 L1179.4 420.0 L1182.7 434.2" stroke-width="1.0" />
<path d="M1221.0 384.1 L1175.0 412.5 L1131.3 430.1 L1110.5 441.9" stroke-width="1.0" />
<path d="M1067.8 469.2 L1106.1 447.3" stroke-width="1.0" />
<path d="M1088.6 468.1 L1102.8 459.4 L1105.4 458.3 L1105.0 461.6 L1091.9 469.2Z" stroke-width="1.0" />
<path d="M1157.5 424.5 L1172.8 414.7 L1175.0 413.6 L1173.9 416.9 L1161.9 424.5Z" stroke-width="1.0" />
<path d="M1186.0 414.7 L1175.0 421.3 L1172.8 430.0" stroke-width="1.0" />
<path d="M1118.1 451.7 L1161.9 429.8" stroke-width="1.0" />
<path d="M1112.7 484.5 L1153.1 462.7" stroke-width="1.0" />
<path d="M1051.4 520.6 L1105.0 490.0" stroke-width="1.0" />
<path d="M1040.5 540.3 L1052.5 535.9 L1107.2 504.2 L1151.0 479.1 L1158.6 478.0" stroke-width="1.0" />
<path d="M1035.0 551.3 L1107.2 509.7 L1157.5 482.3 L1166.3 486.7 L1175.0 491.1" stroke-width="1.0" />
<path d="M1041.6 484.5 L1041.6 538.1 L1035.0 551.3" stroke-width="1.0" />
<path d="M1009.4 496.6 L1022.5 487.8 L1058.6 428.8" stroke-width="1.0" />
<path d="M1063.4 420.0 L1021.9 487.8 L1026.3 493.3 L1043.8 484.5" stroke-width="1.0" />
<path d="M1076.6 420.0 L1048.1 457.2 L1045.9 479.1" stroke-width="1.0" />
<path d="M1044.8 478.0 L1049.2 471.4 L1058.0 469.2 L1067.8 472.5 L1071.1 478.0 L1066.7 483.4 L1056.9 483.9 L1047.0 482.3Z" stroke-width="1.0" />
<ellipse cx="1188.8" cy="461.3" rx="21.0" ry="31.0" stroke-width="1.0" transform="rotate(22 1188.8 461.3)"/>
<ellipse cx="1188.3" cy="462.0" rx="12.5" ry="18.5" stroke-width="1.0" transform="rotate(22 1188.3 462.0)"/>
<path d="M1158.6 478.0 L1161.9 463.8 L1166.3 448.4 L1172.8 436.4 L1181.6 429.8 L1192.5 426.1 L1203.5 426.6 L1211.1 433.1 L1215.5 441.9 L1216.6 447.3 L1229.7 424.4" stroke-width="1.0" />
<path d="M1158.6 456.1 L1166.3 439.7 L1177.2 428.8" stroke-width="1.0" />
<path d="M1211.1 433.1 L1218.8 444.1 L1231.9 422.2 L1233.0 420.0" stroke-width="1.0" />
<path d="M1195.8 412.5 L1205.6 410.3 L1213.3 413.6 L1218.8 421.3 L1222.1 430.0" stroke-width="1.0" />
<path d="M908.8 436.4 L917.5 448.4 L952.5 476.9 L983.1 490.0 L1009.4 496.6 L991.9 507.5 L983.1 518.4" stroke-width="1.0" />
<path d="M924.1 468.1 L880.3 516.3" stroke-width="1.0" />
<path d="M955.8 491.1 L902.2 529.4" stroke-width="1.0" />
<clipPath id="hc"><path d="M965.1 501.9 L974.3 497.3 L978.8 498.0 L990.8 505.4 L990.8 511.7 L989.0 515.9 L981.3 521.6 L965.1 506.1Z"/></clipPath>
<g clip-path="url(#hc)"><path d="M918.5 495.5 L948.5 525.5M948.5 495.5 L918.5 525.5M921.5 495.5 L951.5 525.5M951.5 495.5 L921.5 525.5M924.5 495.5 L954.5 525.5M954.5 495.5 L924.5 525.5M927.5 495.5 L957.5 525.5M957.5 495.5 L927.5 525.5M930.5 495.5 L960.5 525.5M960.5 495.5 L930.5 525.5M933.5 495.5 L963.5 525.5M963.5 495.5 L933.5 525.5M936.5 495.5 L966.5 525.5M966.5 495.5 L936.5 525.5M939.5 495.5 L969.5 525.5M969.5 495.5 L939.5 525.5M942.5 495.5 L972.5 525.5M972.5 495.5 L942.5 525.5M945.5 495.5 L975.5 525.5M975.5 495.5 L945.5 525.5M948.5 495.5 L978.5 525.5M978.5 495.5 L948.5 525.5M951.5 495.5 L981.5 525.5M981.5 495.5 L951.5 525.5M954.5 495.5 L984.5 525.5M984.5 495.5 L954.5 525.5M957.5 495.5 L987.5 525.5M987.5 495.5 L957.5 525.5M960.5 495.5 L990.5 525.5M990.5 495.5 L960.5 525.5M963.5 495.5 L993.5 525.5M993.5 495.5 L963.5 525.5M966.5 495.5 L996.5 525.5M996.5 495.5 L966.5 525.5M969.5 495.5 L999.5 525.5M999.5 495.5 L969.5 525.5M972.5 495.5 L1002.5 525.5M1002.5 495.5 L972.5 525.5M975.5 495.5 L1005.5 525.5M1005.5 495.5 L975.5 525.5M978.5 495.5 L1008.5 525.5M1008.5 495.5 L978.5 525.5M981.5 495.5 L1011.5 525.5M1011.5 495.5 L981.5 525.5M984.5 495.5 L1014.5 525.5M1014.5 495.5 L984.5 525.5M987.5 495.5 L1017.5 525.5M1017.5 495.5 L987.5 525.5M990.5 495.5 L1020.5 525.5M1020.5 495.5 L990.5 525.5M993.5 495.5 L1023.5 525.5M1023.5 495.5 L993.5 525.5M996.5 495.5 L1026.5 525.5M1026.5 495.5 L996.5 525.5M999.5 495.5 L1029.5 525.5M1029.5 495.5 L999.5 525.5M1002.5 495.5 L1032.5 525.5M1032.5 495.5 L1002.5 525.5M1005.5 495.5 L1035.5 525.5M1035.5 495.5 L1005.5 525.5" stroke-width="1"/></g>
<path d="M965.1 501.9 L974.3 497.3 L978.8 498.0 L990.8 505.4 L990.8 511.7 L989.0 515.9 L981.3 521.6 L965.1 506.1Z" stroke-width="1.0" />
<path d="M874.8 467.0 L873.8 476.9 L867.2 494.4 L860.6 506.4" stroke-width="1.0" />
<path d="M851.9 496.4 L848.6 508.4 L847.5 523.8 L848.6 536.9 L860.6 552.2 L904.4 576.3 L932.8 589.8 L948.1 588.9 L978.8 583.9 L987.5 589.4 L996.3 594.2" stroke-width="1.0" />
<path d="M849.7 530.3 L862.8 550.0 L906.6 567.5 L935.0 576.3 L952.5 580.6 L978.8 577.4" stroke-width="1.0" />
<path d="M906.6 567.5 L904.4 574.1 L908.8 579.5" stroke-width="1.0" />
<ellipse cx="940.5" cy="582.4" rx="4.4" ry="2.6" stroke-width="1.0" transform="rotate(15 940.5 582.4)"/>
<path d="M913.1 576.3 L917.5 582.8 L932.8 589.4" stroke-width="1.0" />
<path d="M913.1 576.3 L945.9 582.8 L947.0 587.2" stroke-width="1.0" />
<path d="M851.9 496.4 L860.6 506.3 L877.0 524.8 L870.5 536.9 L871.6 543.4 L886.9 551.1 L895.6 553.3 L896.7 536.9 L893.4 527.0 L884.7 522.7 L878.1 522.7 L877.0 524.8" stroke-width="1.0" />
<ellipse cx="887.3" cy="531.8" rx="4.6" ry="5.2" stroke-width="1.0" transform="rotate(-20 887.3 531.8)"/>
<path d="M853.0 498.6 L873.8 523.8" stroke-width="1.0" />
<path d="M850.8 508.4 L871.6 530.3" stroke-width="1.0" />
<path d="M849.3 519.4 L868.3 538.0" stroke-width="1.0" />
<path d="M897.8 535.8 L906.6 538.0 L926.3 545.6 L943.8 553.3 L947.0 555.5 L944.9 560.9 L937.2 565.3 L924.1 564.2" stroke-width="1.0" />
<path d="M905.5 542.3 L926.3 548.9 L941.6 554.4" stroke-width="1.0" />
<path d="M903.3 547.8 L939.4 558.8" stroke-width="1.0" />
<path d="M901.1 555.5 L917.5 562.0" stroke-width="1.0" />
<path d="M927.4 543.4 L932.8 535.8 L952.5 527.0 L970.0 522.7 L973.3 524.8 L970.0 535.8 L961.3 544.5 L952.5 549.6 L937.2 550.0Z" stroke-width="1.0" />
<path d="M952.5 549.6 L961.3 557.0 L987.5 555.5" stroke-width="1.0" />
<path d="M983.1 536.9 L974.4 550.0 L970.0 563.1 L968.3 574.1" stroke-width="1.0" />
<path d="M978.8 583.9 L983.1 567.5 L991.9 550.0 L1005.0 536.9 L1018.1 531.4 L1026.9 533.6 L1033.5 541.3 L1035.6 550.0" stroke-width="1.0" />
<path d="M997.4 523.8 L1016.0 515.0 L1031.3 515.0 L1037.8 519.4" stroke-width="1.0" />
<ellipse cx="1007.2" cy="565.3" rx="21.0" ry="30.5" stroke-width="1.0" transform="rotate(24 1007.2 565.3)"/>
<ellipse cx="1007.6" cy="564.2" rx="12.5" ry="19.0" stroke-width="1.0" transform="rotate(24 1007.6 564.2)"/>
<path d="M708.5 35.0 L722.5 45.0 L735.0 53.8 L743.8 65.0 L747.4 76.0" stroke-width="1.0" />
<path d="M694.5 45.5 L710.0 56.3 L722.5 65.0 L730.0 75.0 L733.2 82.8" stroke-width="1.0" />
<path d="M1146.4 638.3 L1146.4 634.5 L1151.4 625.5 L1156.4 634.5 L1156.4 638.3M1146.4 634.5 L1156.4 634.5M1163.1 625.5 L1168.1 625.5 L1169.6 627.1 L1169.6 630.0 L1167.9 631.6 L1170.0 633.4 L1170.0 636.3 L1168.1 638.3 L1163.1 638.3 L1161.2 636.3 L1161.2 633.4 L1163.3 631.6 L1161.6 630.0 L1161.6 627.1 L1163.1 625.5M1163.3 631.6 L1167.9 631.6M1175.2 627.5 L1177.2 625.5 L1183.1 625.5 L1185.0 627.5 L1185.0 630.0 L1183.1 631.8 L1177.2 632.8 L1175.2 634.6 L1175.2 638.3 L1185.0 638.3M1189.7 627.5 L1191.6 625.5 L1197.5 625.5 L1199.4 627.5 L1199.4 630.0 L1197.5 631.8 L1191.6 632.8 L1189.7 634.6 L1189.7 638.3 L1199.4 638.3M1206.3 625.5 L1209.5 625.5 L1211.7 627.5 L1211.7 636.3 L1209.5 638.3 L1206.3 638.3 L1204.1 636.3 L1204.1 627.5 L1206.3 625.5M1218.0 625.5 L1221.2 625.5 L1223.4 627.5 L1223.4 636.3 L1221.2 638.3 L1218.0 638.3 L1215.8 636.3 L1215.8 627.5 L1218.0 625.5M1227.9 628.1 L1230.2 625.5 L1230.2 638.3M1227.5 638.3 L1232.5 638.3M1237.8 628.1 L1240.2 625.5 L1240.2 638.3M1237.5 638.3 L1242.5 638.3M1247.5 627.5 L1249.4 625.5 L1255.3 625.5 L1257.2 627.5 L1257.2 630.0 L1255.3 631.8 L1249.4 632.8 L1247.5 634.6 L1247.5 638.3 L1257.2 638.3M1264.1 625.5 L1267.3 625.5 L1269.5 627.5 L1269.5 636.3 L1267.3 638.3 L1264.1 638.3 L1261.9 636.3 L1261.9 627.5 L1264.1 625.5" stroke-width="1.0" />
<g class="t">
<text x="32.5" y="59.3">3</text>
<text x="57.1" y="51.4" textLength="213.8" lengthAdjust="spacingAndGlyphs">82210A*A( -0703)</text>
<text x="57.1" y="71.4" textLength="213.8" lengthAdjust="spacingAndGlyphs">82210A*B(0703- )</text>
<text x="910.3" y="51.3">1</text>
<text x="911.0" y="77.0">2</text>
<text x="911.0" y="102.5">2</text>
<text x="911.0" y="157.0">2</text>
<text x="911.0" y="184.5">2</text>
<text x="911.0" y="232.0">2</text>
<text x="932.2" y="50.6" textLength="318.4" lengthAdjust="spacingAndGlyphs">MAIN FAN RELAY 1 ( -'07MY)</text>
<text x="932.2" y="71.4" textLength="233.0" lengthAdjust="spacingAndGlyphs">HEADLIGHT RELAY LH</text>
<text x="932.2" y="101.1" textLength="233.0" lengthAdjust="spacingAndGlyphs">HEADLIGHT RELAY RH</text>
<text x="932.2" y="155.3" textLength="244.9" lengthAdjust="spacingAndGlyphs">REAR DEFOGGER RELAY</text>
<text x="932.2" y="184.2" textLength="322.1" lengthAdjust="spacingAndGlyphs">TAIL &amp; ILLUMINATION RELAY</text>
<text x="932.2" y="233.4" textLength="127.6" lengthAdjust="spacingAndGlyphs">HORN RELAY</text>
<text x="507.5" y="46.8">3</text>
<text x="600.0" y="87.5" textLength="68.7" lengthAdjust="spacingAndGlyphs">82243</text>
<text x="196.5" y="144.5" textLength="73.0" lengthAdjust="spacingAndGlyphs">81931T</text>
<text x="18.0" y="189.5" textLength="62.0" lengthAdjust="spacingAndGlyphs">0218S</text>
<text x="11.5" y="222.0" textLength="88.0" lengthAdjust="spacingAndGlyphs">P200005</text>
<text x="376.5" y="200.4">1</text>
<text x="402.0" y="224.2">2</text>
<text x="438.4" y="270.0" textLength="64.2" lengthAdjust="spacingAndGlyphs">82212</text>
<text x="488.1" y="287.3" textLength="104.8" lengthAdjust="spacingAndGlyphs">82210B*A</text>
<text x="496.8" y="310.8">2</text>
<text x="515.8" y="310.3" textLength="105.1" lengthAdjust="spacingAndGlyphs">82501D*A</text>
<text x="506.2" y="337.3" textLength="105.5" lengthAdjust="spacingAndGlyphs">82210A*A</text>
<text x="396.5" y="203.3" textLength="222.2" lengthAdjust="spacingAndGlyphs">82501D*B( -'07MY)</text>
<text x="422.4" y="225.3" textLength="105.5" lengthAdjust="spacingAndGlyphs">82501D*A</text>
<text x="531.1" y="242.4" textLength="62.4" lengthAdjust="spacingAndGlyphs">82231</text>
<text x="414.6" y="255.0" textLength="104.6" lengthAdjust="spacingAndGlyphs">82210B*B</text>
<text x="644.9" y="257.0" textLength="63.9" lengthAdjust="spacingAndGlyphs">82241</text>
<text x="501.4" y="397.6" textLength="75.1" lengthAdjust="spacingAndGlyphs">82210D</text>
<text x="118.0" y="444.4" textLength="62.8" lengthAdjust="spacingAndGlyphs">81687</text>
<text x="161.4" y="473.6" textLength="75.6" lengthAdjust="spacingAndGlyphs">82210E</text>
<text x="231.5" y="283.8" textLength="73.5" lengthAdjust="spacingAndGlyphs">81931R</text>
<text x="508.5" y="469.3" textLength="83.5" lengthAdjust="spacingAndGlyphs">82243A</text>
<text x="120.1" y="541.3" textLength="80.8" lengthAdjust="spacingAndGlyphs">M120113</text>
<text x="118.2" y="586.3" textLength="80.6" lengthAdjust="spacingAndGlyphs">M120113</text>
<text x="521.6" y="544.2" textLength="81.0" lengthAdjust="spacingAndGlyphs">M120113</text>
<text x="569.3" y="584.8" textLength="70.0" lengthAdjust="spacingAndGlyphs">81041A</text>
<text x="1146.4" y="638.3" textLength="123.1" lengthAdjust="spacingAndGlyphs">A822001120</text>
</g>
</svg>
</body></html>
